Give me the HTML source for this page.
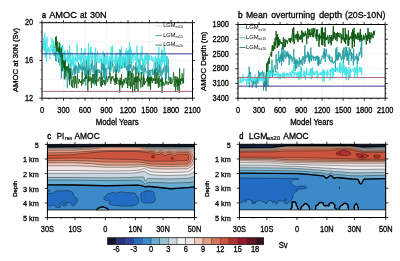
<!DOCTYPE html><html><head><meta charset="utf-8"><style>html,body{margin:0;padding:0;background:#fff;width:400px;height:261px;overflow:hidden}svg{display:block;will-change:transform}text{stroke:#000;stroke-width:0.3px;paint-order:stroke}</style></head><body>
<svg stroke-linecap="butt" xmlns="http://www.w3.org/2000/svg" width="400" height="261" viewBox="0 0 400 261" font-family='"Liberation Sans", sans-serif'>
<line x1="63.50" y1="22.7" x2="63.50" y2="98.2" stroke="#d8d8d8" stroke-width="0.5" stroke-dasharray="1.5,1.5"/>
<line x1="85.00" y1="22.7" x2="85.00" y2="98.2" stroke="#d8d8d8" stroke-width="0.5" stroke-dasharray="1.5,1.5"/>
<line x1="106.50" y1="22.7" x2="106.50" y2="98.2" stroke="#d8d8d8" stroke-width="0.5" stroke-dasharray="1.5,1.5"/>
<line x1="128.00" y1="22.7" x2="128.00" y2="98.2" stroke="#d8d8d8" stroke-width="0.5" stroke-dasharray="1.5,1.5"/>
<line x1="149.50" y1="22.7" x2="149.50" y2="98.2" stroke="#d8d8d8" stroke-width="0.5" stroke-dasharray="1.5,1.5"/>
<line x1="171.00" y1="22.7" x2="171.00" y2="98.2" stroke="#d8d8d8" stroke-width="0.5" stroke-dasharray="1.5,1.5"/>
<line x1="42.0" y1="79.33" x2="192.5" y2="79.33" stroke="#d8d8d8" stroke-width="0.5" stroke-dasharray="1.5,1.5"/>
<line x1="42.0" y1="60.45" x2="192.5" y2="60.45" stroke="#d8d8d8" stroke-width="0.5" stroke-dasharray="1.5,1.5"/>
<line x1="42.0" y1="41.58" x2="192.5" y2="41.58" stroke="#d8d8d8" stroke-width="0.5" stroke-dasharray="1.5,1.5"/>
<polyline points="52.75,50.86 53.11,52.04 53.47,45.36 53.83,51.46 54.18,55.76 54.54,52.42 54.90,52.44 55.26,47.03 55.62,61.00 55.98,41.14 56.33,61.49 56.69,47.42 57.05,57.17 57.41,56.57 57.77,54.49 58.12,56.58 58.48,62.94 58.84,55.22 59.20,47.06 59.56,59.29 59.92,65.79 60.27,54.08 60.63,59.78 60.99,62.26 61.35,78.47 61.71,58.42 62.07,70.86 62.42,64.71 62.78,70.60 63.14,70.04 63.50,59.81 63.86,63.15 64.22,79.07 64.58,71.41 64.93,51.88 65.29,76.13 65.65,65.59 66.01,70.46 66.37,76.81 66.72,66.39 67.08,82.92 67.44,88.25 67.80,76.83 68.16,67.34 68.52,79.74 68.88,80.35 69.23,75.13 69.59,68.49 69.95,69.61 70.31,75.10 70.67,60.06 71.03,79.34 71.38,68.25 71.74,69.75 72.10,69.41 72.46,75.28 72.82,73.28 73.17,72.51 73.53,68.61 73.89,64.93 74.25,76.86 74.61,67.41 74.97,74.44 75.32,63.77 75.68,72.50 76.04,73.87 76.40,65.41 76.76,69.87 77.12,66.62 77.47,73.57 77.83,70.04 78.19,70.18 78.55,62.22 78.91,73.13 79.27,64.28 79.62,68.12 79.98,66.09 80.34,69.31 80.70,64.10 81.06,69.47 81.42,70.51 81.78,66.97 82.13,65.95 82.49,75.38 82.85,62.30 83.21,69.75 83.57,59.42 83.93,70.71 84.28,60.21 84.64,75.71 85.00,71.73 85.36,67.03 85.72,85.55 86.08,60.08 86.43,78.67 86.79,59.74 87.15,68.14 87.51,69.28 87.87,74.93 88.22,62.05 88.58,51.74 88.94,76.61 89.30,68.29 89.66,70.38 90.02,64.76 90.38,75.24 90.73,72.44 91.09,72.65 91.45,62.86 91.81,69.16 92.17,59.29 92.53,64.71 92.88,71.32 93.24,72.86 93.60,67.75 93.96,65.44 94.32,66.91 94.67,85.27 95.03,53.57 95.39,78.88 95.75,71.36 96.11,73.22 96.47,60.30 96.82,76.90 97.18,69.80 97.54,77.61 97.90,69.03 98.26,70.16 98.62,71.70 98.97,72.93 99.33,69.51 99.69,72.92 100.05,72.09 100.41,72.80 100.77,71.01 101.12,71.61 101.48,58.48 101.84,79.93 102.20,62.40 102.56,70.28 102.92,66.86 103.28,63.08 103.63,77.58 103.99,53.86 104.35,78.46 104.71,53.68 105.07,85.74 105.42,67.75 105.78,71.30 106.14,68.77 106.50,78.83 106.86,70.36 107.22,67.67 107.58,68.49 107.93,68.96 108.29,68.77 108.65,66.22 109.01,62.22 109.37,74.19 109.73,66.23 110.08,69.56 110.44,60.42 110.80,71.74 111.16,61.64 111.52,62.02 111.88,67.45 112.23,60.09 112.59,65.74 112.95,63.99 113.31,73.16 113.67,71.68 114.03,68.43 114.38,66.27 114.74,67.39 115.10,71.62 115.46,63.60 115.82,66.32 116.17,72.56 116.53,67.96 116.89,60.66 117.25,71.50 117.61,61.82 117.97,62.96 118.33,70.49 118.68,73.26 119.04,56.67 119.40,63.31 119.76,71.46 120.12,49.62 120.48,66.28 120.83,62.22 121.19,68.76 121.55,66.06 121.91,67.19 122.27,68.41 122.62,63.78 122.98,61.80 123.34,67.01 123.70,66.88 124.06,61.78 124.42,67.12 124.78,67.72 125.13,56.83 125.49,60.35 125.85,67.82 126.21,66.18 126.57,70.27 126.92,63.22 127.28,66.81 127.64,78.58 128.00,51.06 128.36,79.85 128.72,64.53 129.07,67.37 129.43,75.88 129.79,54.47 130.15,68.74 130.51,64.93 130.87,66.07 131.22,58.69 131.58,63.22 131.94,77.62 132.30,68.64 132.66,73.60 133.02,68.28 133.38,65.53 133.73,70.32 134.09,66.37 134.45,67.54 134.81,68.55 135.17,68.73 135.53,63.61 135.88,62.17 136.24,67.39 136.60,68.66 136.96,74.37 137.32,72.96 137.68,65.89 138.03,68.32 138.39,75.74 138.75,58.56 139.11,71.07 139.47,74.80 139.82,60.29 140.18,65.38 140.54,69.13 140.90,65.27 141.26,70.49 141.62,69.63 141.97,64.82 142.33,73.90 142.69,71.21 143.05,62.20 143.41,70.18 143.77,78.49 144.12,74.68 144.48,72.56 144.84,64.18 145.20,71.12 145.56,68.40 145.92,72.56 146.27,72.25 146.63,71.97 146.99,71.57 147.35,76.93 147.71,80.32 148.07,55.46 148.43,84.64 148.78,69.65 149.14,69.95 149.50,75.57 149.86,70.35 150.22,69.75 150.57,83.00 150.93,73.27 151.29,70.13 151.65,70.59 152.01,71.26 152.37,68.46 152.73,74.86 153.08,70.72 153.44,74.63 153.80,71.03 154.16,70.61 154.52,67.03 154.88,73.22 155.23,61.79 155.59,66.95 155.95,78.37 156.31,68.06 156.67,70.85 157.02,66.60 157.38,75.74 157.74,61.43 158.10,71.79 158.46,70.32 158.82,75.98 159.18,60.72 159.53,72.78 159.89,63.50 160.25,76.06 160.61,66.27 160.97,67.15 161.32,72.58 161.68,85.76 162.04,71.15 162.40,73.61 162.76,69.23 163.12,72.68 163.48,67.40 163.83,71.57 164.19,66.25 164.55,60.78 164.91,66.74 165.27,78.93 165.62,75.95 165.98,64.95 166.34,78.87 166.70,56.24 167.06,70.19 167.42,71.76 167.78,72.72 168.13,58.43 168.49,80.56 168.85,67.36" fill="none" stroke="#1a9aa0" stroke-width="0.75" stroke-linejoin="round" />
<polyline points="42.00,47.47 42.36,49.24 42.72,42.73 43.08,48.38 43.43,50.22 43.79,37.71 44.15,44.85 44.51,50.71 44.87,32.92 45.23,57.47 45.58,40.61 45.94,49.03 46.30,48.69 46.66,61.92 47.02,36.87 47.38,52.37 47.73,49.05 48.09,50.81 48.45,47.09 48.81,51.90 49.17,48.64 49.52,51.36 49.88,59.18 50.24,49.73 50.60,44.90 50.96,47.33 51.32,49.30 51.67,50.80 52.03,37.72 52.39,49.73 52.75,53.74 53.11,48.67 53.47,40.61 53.83,50.36 54.18,51.99 54.54,50.47 54.90,50.67 55.26,43.93 55.62,50.96 55.98,51.98 56.33,51.16 56.69,58.47 57.05,49.21 57.41,55.98 57.77,57.71 58.12,57.56 58.48,54.44 58.84,50.38 59.20,58.54 59.56,51.32 59.92,53.95 60.27,43.43 60.63,58.90 60.99,50.36 61.35,67.78 61.71,49.97 62.07,44.95 62.42,69.59 62.78,45.13 63.14,65.47 63.50,52.33 63.86,70.87 64.22,61.16 64.58,61.73 64.93,50.21 65.29,57.65 65.65,57.09 66.01,57.71 66.37,61.25 66.72,57.95 67.08,59.73 67.44,50.12 67.80,63.17 68.16,55.80 68.52,62.52 68.88,51.67 69.23,58.29 69.59,45.22 69.95,68.70 70.31,52.20 70.67,63.42 71.03,59.28 71.38,60.47 71.74,66.87 72.10,52.56 72.46,61.97 72.82,65.27 73.17,55.38 73.53,66.69 73.89,57.79 74.25,57.97 74.61,59.44 74.97,66.11 75.32,54.65 75.68,60.61 76.04,58.10 76.40,61.95 76.76,59.92 77.12,42.81 77.47,62.39 77.83,54.73 78.19,54.90 78.55,58.86 78.91,60.84 79.27,54.77 79.62,58.57 79.98,57.25 80.34,63.46 80.70,55.43 81.06,66.13 81.42,47.83 81.78,61.48 82.13,53.58 82.49,57.79 82.85,57.59 83.21,58.71 83.57,67.20 83.93,52.64 84.28,65.20 84.64,57.66 85.00,48.21 85.36,61.94 85.72,57.31 86.08,55.98 86.43,60.55 86.79,57.81 87.15,59.44 87.51,55.22 87.87,65.46 88.22,55.94 88.58,43.27 88.94,62.92 89.30,55.89 89.66,60.13 90.02,68.01 90.38,47.39 90.73,54.04 91.09,46.80 91.45,61.05 91.81,55.06 92.17,59.87 92.53,52.13 92.88,58.06 93.24,58.53 93.60,58.34 93.96,57.69 94.32,55.13 94.67,54.73 95.03,63.59 95.39,47.57 95.75,57.88 96.11,53.55 96.47,62.13 96.82,60.53 97.18,54.38 97.54,51.38 97.90,61.81 98.26,63.04 98.62,58.58 98.97,54.77 99.33,56.75 99.69,63.02 100.05,62.69 100.41,58.85 100.77,62.10 101.12,55.17 101.48,62.55 101.84,62.83 102.20,60.55 102.56,63.91 102.92,57.93 103.28,51.40 103.63,63.37 103.99,62.77 104.35,56.57 104.71,63.36 105.07,66.03 105.42,62.86 105.78,60.52 106.14,55.94 106.50,64.26 106.86,55.14 107.22,67.75 107.58,52.32 107.93,59.61 108.29,65.28 108.65,65.82 109.01,58.97 109.37,62.52 109.73,56.19 110.08,59.89 110.44,57.83 110.80,61.27 111.16,46.62 111.52,69.22 111.88,54.24 112.23,60.90 112.59,45.40 112.95,56.15 113.31,61.40 113.67,60.09 114.03,61.66 114.38,64.05 114.74,57.90 115.10,56.51 115.46,62.83 115.82,54.03 116.17,66.48 116.53,61.93 116.89,52.49 117.25,57.99 117.61,62.67 117.97,60.71 118.33,63.00 118.68,71.31 119.04,58.86 119.40,49.16 119.76,65.16 120.12,55.93 120.48,66.57 120.83,56.15 121.19,61.12 121.55,46.58 121.91,66.37 122.27,57.68 122.62,62.40 122.98,55.85 123.34,67.45 123.70,53.53 124.06,56.31 124.42,61.61 124.78,58.07 125.13,59.10 125.49,51.93 125.85,63.47 126.21,48.37 126.57,65.92 126.92,62.77 127.28,50.44 127.64,65.43 128.00,51.88 128.36,56.70 128.72,49.45 129.07,55.53 129.43,42.54 129.79,57.38 130.15,55.11 130.51,46.68 130.87,63.85 131.22,49.37 131.58,61.66 131.94,55.53 132.30,54.94 132.66,54.32 133.02,62.86 133.38,52.69 133.73,55.46 134.09,57.21 134.45,55.56 134.81,52.75 135.17,60.65 135.53,56.54 135.88,58.83 136.24,58.86 136.60,66.24 136.96,45.67 137.32,62.18 137.68,58.43 138.03,53.35 138.39,72.14 138.75,60.13 139.11,70.94 139.47,65.61 139.82,73.75 140.18,52.85 140.54,60.06 140.90,60.91 141.26,52.25 141.62,59.68 141.97,45.98 142.33,61.41 142.69,58.45 143.05,67.42 143.41,61.26 143.77,59.48 144.12,63.03 144.48,55.58 144.84,66.29 145.20,54.75 145.56,60.04 145.92,57.78 146.27,64.16 146.63,52.94 146.99,56.12 147.35,59.33 147.71,57.59 148.07,55.41 148.43,62.88 148.78,54.55 149.14,59.95 149.50,54.98 149.86,57.64 150.22,59.82 150.57,59.70 150.93,58.77 151.29,60.39 151.65,55.51 152.01,56.96 152.37,59.91 152.73,61.81 153.08,58.69 153.44,57.29 153.80,60.23 154.16,72.37 154.52,61.91 154.88,60.26 155.23,55.72 155.59,62.13 155.95,58.29 156.31,60.15 156.67,66.62 157.02,57.82 157.38,61.20 157.74,59.73 158.10,53.55 158.46,63.79 158.82,46.93 159.18,64.27 159.53,58.07 159.89,57.98 160.25,60.14 160.61,66.94 160.97,56.23 161.32,66.83 161.68,49.55 162.04,64.46 162.40,50.12 162.76,62.39 163.12,55.23 163.48,60.73 163.83,62.03 164.19,45.25 164.55,65.17 164.91,57.81 165.27,52.29 165.62,61.59 165.98,59.58 166.34,62.94 166.70,59.91 167.06,55.96 167.42,65.06 167.78,58.06 168.13,59.02 168.49,60.36 168.85,60.29" fill="none" stroke="#3ce2e4" stroke-width="0.8" stroke-linejoin="round" />
<polyline points="54.90,47.76 55.26,45.38 55.62,37.04 55.98,44.90 56.33,36.28 56.69,51.44 57.05,41.78 57.41,41.37 57.77,51.49 58.12,47.73 58.48,50.02 58.84,52.67 59.20,42.41 59.56,54.42 59.92,47.60 60.27,55.65 60.63,57.08 60.99,57.55 61.35,47.44 61.71,64.23 62.07,71.39 62.42,53.89 62.78,63.81 63.14,60.40 63.50,67.55 63.86,61.33 64.22,69.09 64.58,61.96 64.93,79.45 65.29,60.01 65.65,69.09 66.01,66.74 66.37,67.50 66.72,70.75 67.08,67.30 67.44,68.00 67.80,66.24 68.16,72.73 68.52,63.63 68.88,71.92 69.23,73.05 69.59,84.78 69.95,68.25 70.31,78.67 70.67,71.68 71.03,77.76 71.38,86.45 71.74,83.83 72.10,79.97 72.46,84.46 72.82,87.99 73.17,76.30 73.53,80.85 73.89,81.24 74.25,83.29 74.61,87.68 74.97,76.03 75.32,83.50 75.68,76.14 76.04,81.08 76.40,82.96 76.76,88.23 77.12,81.24 77.47,74.24 77.83,80.51 78.19,82.37 78.55,83.69 78.91,80.22 79.27,78.97 79.62,82.02 79.98,81.12 80.34,81.97 80.70,82.88 81.06,81.26 81.42,80.49 81.78,85.67 82.13,71.65 82.49,77.66 82.85,83.77 83.21,80.74 83.57,79.68 83.93,78.91 84.28,81.87 84.64,78.78 85.00,77.06 85.36,78.50 85.72,75.54 86.08,78.61 86.43,78.64 86.79,75.31 87.15,77.96 87.51,79.14 87.87,91.06 88.22,70.37 88.58,81.80 88.94,76.39 89.30,80.82 89.66,78.45 90.02,81.32 90.38,78.67 90.73,76.57 91.09,79.42 91.45,87.74 91.81,77.87 92.17,83.14 92.53,74.99 92.88,73.87 93.24,83.57 93.60,79.85 93.96,73.72 94.32,79.25 94.67,79.70 95.03,81.63 95.39,80.38 95.75,83.68 96.11,70.00 96.47,85.83 96.82,78.16 97.18,80.85 97.54,81.26 97.90,80.86 98.26,81.37 98.62,78.93 98.97,78.98 99.33,77.19 99.69,77.04 100.05,81.00 100.41,83.35 100.77,86.23 101.12,72.64 101.48,86.68 101.84,83.39 102.20,77.19 102.56,84.95 102.92,82.46 103.28,82.34 103.63,79.79 103.99,82.22 104.35,84.32 104.71,81.20 105.07,80.21 105.42,84.22 105.78,84.47 106.14,78.97 106.50,76.33 106.86,76.59 107.22,81.32 107.58,82.21 107.93,79.00 108.29,79.58 108.65,76.26 109.01,78.21 109.37,76.88 109.73,77.61 110.08,72.54 110.44,82.35 110.80,83.80 111.16,77.66 111.52,80.70 111.88,76.23 112.23,78.23 112.59,76.28 112.95,76.01 113.31,79.17 113.67,80.48 114.03,78.99 114.38,81.94 114.74,78.48 115.10,84.95 115.46,74.06 115.82,82.78 116.17,69.84 116.53,82.81 116.89,83.98 117.25,78.52 117.61,77.62 117.97,80.34 118.33,80.75 118.68,79.90 119.04,85.02 119.40,80.28 119.76,92.60 120.12,77.89 120.48,84.87 120.83,80.21 121.19,84.47 121.55,74.13 121.91,84.26 122.27,87.71 122.62,81.43 122.98,82.79 123.34,85.31 123.70,79.20 124.06,81.52 124.42,80.18 124.78,83.46 125.13,77.68 125.49,79.24 125.85,79.20 126.21,81.69 126.57,84.02 126.92,77.73 127.28,78.84 127.64,88.10 128.00,76.84 128.36,71.27 128.72,80.55 129.07,85.99 129.43,78.66 129.79,79.06 130.15,70.85 130.51,88.73 130.87,82.25 131.22,86.62 131.58,73.00 131.94,81.74 132.30,84.24 132.66,92.53 133.02,73.78 133.38,84.90 133.73,81.90 134.09,78.70 134.45,77.52 134.81,92.13 135.17,76.87 135.53,82.55 135.88,67.78 136.24,88.96 136.60,76.61 136.96,82.26 137.32,82.02 137.68,76.03 138.03,91.03 138.39,75.95 138.75,73.51 139.11,81.02 139.47,78.86 139.82,78.39 140.18,81.45 140.54,79.82 140.90,87.55 141.26,72.04 141.62,79.69 141.97,77.56 142.33,83.02 142.69,87.12 143.05,84.84 143.41,74.60 143.77,84.54 144.12,78.09 144.48,84.70 144.84,81.65 145.20,83.38 145.56,81.75 145.92,81.66 146.27,81.49 146.63,80.42 146.99,78.35 147.35,82.02 147.71,76.15 148.07,86.55 148.43,79.22 148.78,77.44 149.14,83.62 149.50,76.94 149.86,86.28 150.22,78.18 150.57,89.80 150.93,76.87 151.29,81.08 151.65,76.72 152.01,79.82 152.37,82.86 152.73,78.45 153.08,78.57 153.44,80.62 153.80,78.41 154.16,80.87 154.52,79.52 154.88,69.36 155.23,84.08 155.59,78.69 155.95,83.95 156.31,83.10 156.67,76.39 157.02,72.15 157.38,83.50 157.74,79.15 158.10,78.26 158.46,88.02 158.82,77.64 159.18,75.98 159.53,83.18 159.89,86.75 160.25,79.75 160.61,81.64 160.97,78.72 161.32,81.88 161.68,79.74 162.04,92.71 162.40,78.03 162.76,85.69 163.12,82.06 163.48,81.89 163.83,83.98 164.19,85.86 164.55,84.74 164.91,84.85 165.27,81.61 165.62,78.61 165.98,84.36 166.34,82.73 166.70,81.15 167.06,82.79 167.42,82.10 167.78,82.12 168.13,85.17 168.49,83.48 168.85,81.77 169.21,83.29 169.57,81.94 169.93,76.89 170.28,81.25 170.64,84.03 171.00,77.51 171.36,83.94 171.72,83.26 172.08,83.44 172.43,79.91 172.79,80.06 173.15,78.23 173.51,72.38 173.87,77.36 174.22,86.71 174.58,83.00 174.94,76.37 175.30,78.54 175.66,92.09 176.02,76.34 176.38,82.26 176.73,79.81 177.09,86.97 177.45,77.10 177.81,90.29 178.17,78.44 178.53,86.00 178.88,80.09 179.24,92.78 179.60,68.43 179.96,83.00 180.32,79.08 180.67,84.87 181.03,78.16 181.39,79.48 181.75,80.92 182.11,73.31 182.47,77.67 182.82,83.71 183.18,78.18 183.54,82.71 183.90,68.35" fill="none" stroke="#0c5c12" stroke-width="0.8" stroke-linejoin="round" />
<line x1="42.0" y1="53.84" x2="192.5" y2="53.84" stroke="#283c8c" stroke-width="1"/>
<line x1="42.0" y1="91.41" x2="192.5" y2="91.41" stroke="#a86a7a" stroke-width="1"/>
<line x1="155.2" y1="26.10" x2="162" y2="26.10" stroke="#9fe5e8" stroke-width="0.8"/>
<text x="163.2" y="27.10" font-size="5.7" style="stroke-width:0.0px">LGM<tspan font-size="3.4" dy="1.3" style="stroke-width:0px">es10</tspan></text>
<line x1="155.2" y1="35.60" x2="162" y2="35.60" stroke="#2a9ea6" stroke-width="0.8"/>
<text x="163.2" y="36.60" font-size="5.7" style="stroke-width:0.0px">LGM<tspan font-size="3.4" dy="1.3" style="stroke-width:0px">es15</tspan></text>
<line x1="155.2" y1="45.10" x2="162" y2="45.10" stroke="#1f6f22" stroke-width="0.8"/>
<text x="163.2" y="46.10" font-size="5.7" style="stroke-width:0.0px">LGM<tspan font-size="3.4" dy="1.3" style="stroke-width:0px">es20</tspan></text>
<rect x="42.0" y="22.7" width="150.50" height="75.50" fill="none" stroke="#000" stroke-width="1"/>
<line x1="42.00" y1="98.2" x2="42.00" y2="100.80" stroke="#000" stroke-width="0.8"/>
<line x1="42.00" y1="22.7" x2="42.00" y2="20.10" stroke="#000" stroke-width="0.8"/>
<line x1="63.50" y1="98.2" x2="63.50" y2="100.80" stroke="#000" stroke-width="0.8"/>
<line x1="63.50" y1="22.7" x2="63.50" y2="20.10" stroke="#000" stroke-width="0.8"/>
<line x1="85.00" y1="98.2" x2="85.00" y2="100.80" stroke="#000" stroke-width="0.8"/>
<line x1="85.00" y1="22.7" x2="85.00" y2="20.10" stroke="#000" stroke-width="0.8"/>
<line x1="106.50" y1="98.2" x2="106.50" y2="100.80" stroke="#000" stroke-width="0.8"/>
<line x1="106.50" y1="22.7" x2="106.50" y2="20.10" stroke="#000" stroke-width="0.8"/>
<line x1="128.00" y1="98.2" x2="128.00" y2="100.80" stroke="#000" stroke-width="0.8"/>
<line x1="128.00" y1="22.7" x2="128.00" y2="20.10" stroke="#000" stroke-width="0.8"/>
<line x1="149.50" y1="98.2" x2="149.50" y2="100.80" stroke="#000" stroke-width="0.8"/>
<line x1="149.50" y1="22.7" x2="149.50" y2="20.10" stroke="#000" stroke-width="0.8"/>
<line x1="171.00" y1="98.2" x2="171.00" y2="100.80" stroke="#000" stroke-width="0.8"/>
<line x1="171.00" y1="22.7" x2="171.00" y2="20.10" stroke="#000" stroke-width="0.8"/>
<line x1="192.50" y1="98.2" x2="192.50" y2="100.80" stroke="#000" stroke-width="0.8"/>
<line x1="192.50" y1="22.7" x2="192.50" y2="20.10" stroke="#000" stroke-width="0.8"/>
<line x1="49.17" y1="98.2" x2="49.17" y2="99.60" stroke="#000" stroke-width="0.6"/>
<line x1="49.17" y1="22.7" x2="49.17" y2="21.30" stroke="#000" stroke-width="0.6"/>
<line x1="56.33" y1="98.2" x2="56.33" y2="99.60" stroke="#000" stroke-width="0.6"/>
<line x1="56.33" y1="22.7" x2="56.33" y2="21.30" stroke="#000" stroke-width="0.6"/>
<line x1="70.67" y1="98.2" x2="70.67" y2="99.60" stroke="#000" stroke-width="0.6"/>
<line x1="70.67" y1="22.7" x2="70.67" y2="21.30" stroke="#000" stroke-width="0.6"/>
<line x1="77.83" y1="98.2" x2="77.83" y2="99.60" stroke="#000" stroke-width="0.6"/>
<line x1="77.83" y1="22.7" x2="77.83" y2="21.30" stroke="#000" stroke-width="0.6"/>
<line x1="92.17" y1="98.2" x2="92.17" y2="99.60" stroke="#000" stroke-width="0.6"/>
<line x1="92.17" y1="22.7" x2="92.17" y2="21.30" stroke="#000" stroke-width="0.6"/>
<line x1="99.33" y1="98.2" x2="99.33" y2="99.60" stroke="#000" stroke-width="0.6"/>
<line x1="99.33" y1="22.7" x2="99.33" y2="21.30" stroke="#000" stroke-width="0.6"/>
<line x1="113.67" y1="98.2" x2="113.67" y2="99.60" stroke="#000" stroke-width="0.6"/>
<line x1="113.67" y1="22.7" x2="113.67" y2="21.30" stroke="#000" stroke-width="0.6"/>
<line x1="120.83" y1="98.2" x2="120.83" y2="99.60" stroke="#000" stroke-width="0.6"/>
<line x1="120.83" y1="22.7" x2="120.83" y2="21.30" stroke="#000" stroke-width="0.6"/>
<line x1="135.17" y1="98.2" x2="135.17" y2="99.60" stroke="#000" stroke-width="0.6"/>
<line x1="135.17" y1="22.7" x2="135.17" y2="21.30" stroke="#000" stroke-width="0.6"/>
<line x1="142.33" y1="98.2" x2="142.33" y2="99.60" stroke="#000" stroke-width="0.6"/>
<line x1="142.33" y1="22.7" x2="142.33" y2="21.30" stroke="#000" stroke-width="0.6"/>
<line x1="156.67" y1="98.2" x2="156.67" y2="99.60" stroke="#000" stroke-width="0.6"/>
<line x1="156.67" y1="22.7" x2="156.67" y2="21.30" stroke="#000" stroke-width="0.6"/>
<line x1="163.83" y1="98.2" x2="163.83" y2="99.60" stroke="#000" stroke-width="0.6"/>
<line x1="163.83" y1="22.7" x2="163.83" y2="21.30" stroke="#000" stroke-width="0.6"/>
<line x1="178.17" y1="98.2" x2="178.17" y2="99.60" stroke="#000" stroke-width="0.6"/>
<line x1="178.17" y1="22.7" x2="178.17" y2="21.30" stroke="#000" stroke-width="0.6"/>
<line x1="185.33" y1="98.2" x2="185.33" y2="99.60" stroke="#000" stroke-width="0.6"/>
<line x1="185.33" y1="22.7" x2="185.33" y2="21.30" stroke="#000" stroke-width="0.6"/>
<line x1="42.0" y1="98.20" x2="39.40" y2="98.20" stroke="#000" stroke-width="0.8"/>
<line x1="192.5" y1="98.20" x2="195.10" y2="98.20" stroke="#000" stroke-width="0.8"/>
<line x1="42.0" y1="60.45" x2="39.40" y2="60.45" stroke="#000" stroke-width="0.8"/>
<line x1="192.5" y1="60.45" x2="195.10" y2="60.45" stroke="#000" stroke-width="0.8"/>
<line x1="42.0" y1="22.70" x2="39.40" y2="22.70" stroke="#000" stroke-width="0.8"/>
<line x1="192.5" y1="22.70" x2="195.10" y2="22.70" stroke="#000" stroke-width="0.8"/>
<line x1="42.0" y1="88.76" x2="40.60" y2="88.76" stroke="#000" stroke-width="0.6"/>
<line x1="192.5" y1="88.76" x2="193.90" y2="88.76" stroke="#000" stroke-width="0.6"/>
<line x1="42.0" y1="79.33" x2="40.60" y2="79.33" stroke="#000" stroke-width="0.6"/>
<line x1="192.5" y1="79.33" x2="193.90" y2="79.33" stroke="#000" stroke-width="0.6"/>
<line x1="42.0" y1="69.89" x2="40.60" y2="69.89" stroke="#000" stroke-width="0.6"/>
<line x1="192.5" y1="69.89" x2="193.90" y2="69.89" stroke="#000" stroke-width="0.6"/>
<line x1="42.0" y1="51.01" x2="40.60" y2="51.01" stroke="#000" stroke-width="0.6"/>
<line x1="192.5" y1="51.01" x2="193.90" y2="51.01" stroke="#000" stroke-width="0.6"/>
<line x1="42.0" y1="41.58" x2="40.60" y2="41.58" stroke="#000" stroke-width="0.6"/>
<line x1="192.5" y1="41.58" x2="193.90" y2="41.58" stroke="#000" stroke-width="0.6"/>
<line x1="42.0" y1="32.14" x2="40.60" y2="32.14" stroke="#000" stroke-width="0.6"/>
<line x1="192.5" y1="32.14" x2="193.90" y2="32.14" stroke="#000" stroke-width="0.6"/>
<text x="42.00" y="112.60" font-size="8.22" text-anchor="middle" textLength="4.12" lengthAdjust="spacingAndGlyphs" >0</text>
<text x="63.50" y="112.60" font-size="8.22" text-anchor="middle" textLength="12.35" lengthAdjust="spacingAndGlyphs" >300</text>
<text x="85.00" y="112.60" font-size="8.22" text-anchor="middle" textLength="12.35" lengthAdjust="spacingAndGlyphs" >600</text>
<text x="106.50" y="112.60" font-size="8.22" text-anchor="middle" textLength="12.35" lengthAdjust="spacingAndGlyphs" >900</text>
<text x="128.00" y="112.60" font-size="8.22" text-anchor="middle" textLength="16.46" lengthAdjust="spacingAndGlyphs" >1200</text>
<text x="149.50" y="112.60" font-size="8.22" text-anchor="middle" textLength="16.46" lengthAdjust="spacingAndGlyphs" >1500</text>
<text x="171.00" y="112.60" font-size="8.22" text-anchor="middle" textLength="16.46" lengthAdjust="spacingAndGlyphs" >1800</text>
<text x="192.50" y="112.60" font-size="8.22" text-anchor="middle" textLength="16.46" lengthAdjust="spacingAndGlyphs" >2100</text>
<text x="33.20" y="100.90" font-size="8.22" text-anchor="end" textLength="8.23" lengthAdjust="spacingAndGlyphs" >12</text>
<text x="33.20" y="63.15" font-size="8.22" text-anchor="end" textLength="8.23" lengthAdjust="spacingAndGlyphs" >16</text>
<text x="33.20" y="25.40" font-size="8.22" text-anchor="end" textLength="8.23" lengthAdjust="spacingAndGlyphs" >20</text>
<text x="117.20" y="124.60" font-size="8.67" text-anchor="middle" textLength="42.93" lengthAdjust="spacingAndGlyphs" >Model Years</text>
<text transform="translate(17.8,60.0) rotate(-90)" font-size="7.7" text-anchor="middle">AMOC at 30N (Sv)</text>
<text x="42.00" y="18.40" font-size="9.6" textLength="3.99" lengthAdjust="spacingAndGlyphs" style="stroke-width:0.45px">a</text>
<text x="49.20" y="18.30" font-size="9.6" textLength="27.80" lengthAdjust="spacingAndGlyphs" >AMOC</text>
<text x="80.00" y="18.30" font-size="9.6" textLength="6.90" lengthAdjust="spacingAndGlyphs" >at</text>
<text x="89.90" y="18.30" font-size="9.6" textLength="16.80" lengthAdjust="spacingAndGlyphs" >30N</text>
<line x1="259.03" y1="24.5" x2="259.03" y2="98.2" stroke="#d8d8d8" stroke-width="0.5" stroke-dasharray="1.5,1.5"/>
<line x1="280.06" y1="24.5" x2="280.06" y2="98.2" stroke="#d8d8d8" stroke-width="0.5" stroke-dasharray="1.5,1.5"/>
<line x1="301.09" y1="24.5" x2="301.09" y2="98.2" stroke="#d8d8d8" stroke-width="0.5" stroke-dasharray="1.5,1.5"/>
<line x1="322.11" y1="24.5" x2="322.11" y2="98.2" stroke="#d8d8d8" stroke-width="0.5" stroke-dasharray="1.5,1.5"/>
<line x1="343.14" y1="24.5" x2="343.14" y2="98.2" stroke="#d8d8d8" stroke-width="0.5" stroke-dasharray="1.5,1.5"/>
<line x1="364.17" y1="24.5" x2="364.17" y2="98.2" stroke="#d8d8d8" stroke-width="0.5" stroke-dasharray="1.5,1.5"/>
<line x1="238.0" y1="39.24" x2="385.2" y2="39.24" stroke="#d8d8d8" stroke-width="0.5" stroke-dasharray="1.5,1.5"/>
<line x1="238.0" y1="53.98" x2="385.2" y2="53.98" stroke="#d8d8d8" stroke-width="0.5" stroke-dasharray="1.5,1.5"/>
<line x1="238.0" y1="68.72" x2="385.2" y2="68.72" stroke="#d8d8d8" stroke-width="0.5" stroke-dasharray="1.5,1.5"/>
<line x1="238.0" y1="83.46" x2="385.2" y2="83.46" stroke="#d8d8d8" stroke-width="0.5" stroke-dasharray="1.5,1.5"/>
<polyline points="248.51,75.43 248.86,76.88 249.22,66.57 249.57,87.43 249.92,71.83 250.27,79.09 250.62,72.54 250.97,79.44 251.32,81.45 251.67,80.22 252.02,82.66 252.37,87.77 252.72,79.13 253.07,80.13 253.42,80.68 253.77,85.09 254.12,80.58 254.47,83.00 254.82,80.25 255.17,84.32 255.52,79.73 255.87,80.68 256.22,88.17 256.58,77.07 256.93,79.79 257.28,81.24 257.63,77.34 257.98,83.67 258.33,79.56 258.68,70.40 259.03,79.31 259.38,77.48 259.73,72.63 260.08,75.89 260.43,73.75 260.78,74.86 261.13,72.02 261.48,74.64 261.83,75.93 262.18,74.30 262.53,70.72 262.88,74.41 263.23,80.06 263.58,90.28 263.94,72.23 264.29,87.10 264.64,77.68 264.99,85.40 265.34,84.08 265.69,82.02 266.04,81.95 266.39,85.60 266.74,82.62 267.09,81.77 267.44,78.23 267.79,81.18 268.14,86.86 268.49,65.33 268.84,77.80 269.19,70.82 269.54,76.78 269.89,70.95 270.24,73.26 270.59,70.42 270.94,70.50 271.30,70.47 271.65,73.45 272.00,59.69 272.35,77.03 272.70,70.73 273.05,71.23 273.40,73.76 273.75,67.48 274.10,67.01 274.45,65.97 274.80,65.31 275.15,67.90 275.50,72.29 275.85,60.67 276.20,54.23 276.55,62.45 276.90,62.87 277.25,69.52 277.60,59.81 277.95,58.89 278.30,60.49 278.66,51.08 279.01,60.30 279.36,63.22 279.71,56.99 280.06,61.59 280.41,54.99 280.76,59.35 281.11,53.46 281.46,65.56 281.81,47.61 282.16,61.21 282.51,52.56 282.86,60.87 283.21,45.61 283.56,61.72 283.91,59.09 284.26,55.03 284.61,56.90 284.96,50.35 285.31,54.88 285.66,58.94 286.02,55.84 286.37,51.84 286.72,56.90 287.07,54.17 287.42,56.11 287.77,51.32 288.12,57.12 288.47,58.08 288.82,53.30 289.17,65.08 289.52,54.83 289.87,58.57 290.22,54.52 290.57,54.86 290.92,59.18 291.27,59.81 291.62,56.22 291.97,62.20 292.32,61.34 292.67,58.13 293.02,57.79 293.38,58.72 293.73,49.10 294.08,64.14 294.43,61.08 294.78,57.58 295.13,71.11 295.48,60.05 295.83,67.61 296.18,59.42 296.53,66.23 296.88,68.56 297.23,59.50 297.58,64.10 297.93,63.41 298.28,61.39 298.63,63.51 298.98,66.94 299.33,57.32 299.68,64.80 300.03,60.67 300.38,60.00 300.74,63.19 301.09,64.34 301.44,58.83 301.79,61.97 302.14,61.51 302.49,65.62 302.84,56.27 303.19,59.88 303.54,57.35 303.89,56.49 304.24,63.82 304.59,49.89 304.94,44.90 305.29,61.98 305.64,54.67 305.99,55.24 306.34,55.28 306.69,57.95 307.04,56.96 307.39,57.46 307.74,51.51 308.10,57.12 308.45,52.67 308.80,61.46 309.15,55.80 309.50,63.15 309.85,54.36 310.20,60.13 310.55,56.79 310.90,47.51 311.25,61.41 311.60,58.77 311.95,55.16 312.30,58.22 312.65,58.69 313.00,57.72 313.35,55.90 313.70,60.81 314.05,57.42 314.40,57.95 314.75,56.91 315.10,56.35 315.46,60.75 315.81,57.35 316.16,58.86 316.51,56.28 316.86,59.52 317.21,60.64 317.56,55.61 317.91,65.31 318.26,56.59 318.61,65.68 318.96,57.03 319.31,63.15 319.66,64.16 320.01,59.68 320.36,61.91 320.71,63.83 321.06,61.40 321.41,58.66 321.76,60.03 322.11,55.81 322.46,57.05 322.82,55.62 323.17,55.74 323.52,51.83 323.87,58.90 324.22,48.09 324.57,57.41 324.92,49.67 325.27,62.02 325.62,53.75 325.97,55.80 326.32,48.82 326.67,52.59 327.02,55.17 327.37,56.34 327.72,55.90 328.07,57.29 328.42,58.46 328.77,57.96 329.12,54.40 329.47,60.66 329.82,55.85 330.18,60.41 330.53,61.97 330.88,61.07 331.23,60.05 331.58,62.26 331.93,56.73 332.28,57.78 332.63,62.60 332.98,61.65 333.33,63.55 333.68,62.59 334.03,62.92 334.38,61.36 334.73,62.21 335.08,60.77 335.43,71.70 335.78,48.72 336.13,60.42 336.48,60.21 336.83,47.02 337.18,60.28 337.54,54.92 337.89,60.61 338.24,52.69 338.59,59.28 338.94,52.06 339.29,56.74 339.64,55.51 339.99,52.83 340.34,53.41 340.69,57.90 341.04,58.74 341.39,60.68 341.74,56.62 342.09,59.03 342.44,55.32 342.79,49.78 343.14,58.84 343.49,62.96 343.84,47.61 344.19,59.23 344.54,55.32 344.90,56.59 345.25,46.92 345.60,55.90 345.95,53.76 346.30,56.78 346.65,46.91 347.00,60.88 347.35,50.82 347.70,60.16 348.05,53.35 348.40,56.75 348.75,64.95 349.10,47.23 349.45,54.73 349.80,55.57 350.15,49.28 350.50,49.54 350.85,56.36 351.20,60.88 351.55,52.22 351.90,58.74 352.26,54.02 352.61,54.05 352.96,53.51 353.31,65.40 353.66,48.51 354.01,61.23 354.36,58.90 354.71,58.60 355.06,57.74 355.41,55.91 355.76,59.49 356.11,59.07 356.46,58.61 356.81,53.57 357.16,64.55 357.51,56.78 357.86,61.08 358.21,56.52 358.56,60.73 358.91,54.16 359.26,51.71 359.62,55.63 359.97,54.43 360.32,53.55 360.67,47.67 361.02,49.42 361.37,40.00 361.72,57.52 362.07,37.08" fill="none" stroke="#1a9aa0" stroke-width="0.8" stroke-linejoin="round" />
<polyline points="238.00,83.91 238.35,83.40 238.70,82.48 239.05,83.31 239.40,82.06 239.75,81.94 240.10,77.58 240.45,83.02 240.80,78.30 241.15,79.84 241.50,79.61 241.86,83.26 242.21,80.96 242.56,80.02 242.91,74.21 243.26,81.75 243.61,78.93 243.96,78.57 244.31,79.81 244.66,79.43 245.01,79.16 245.36,81.08 245.71,78.66 246.06,79.03 246.41,79.01 246.76,85.04 247.11,78.58 247.46,75.64 247.81,79.86 248.16,84.17 248.51,79.01 248.86,78.09 249.22,82.56 249.57,78.99 249.92,74.87 250.27,75.01 250.62,81.05 250.97,80.55 251.32,79.55 251.67,80.58 252.02,78.37 252.37,81.22 252.72,77.58 253.07,80.48 253.42,80.83 253.77,79.63 254.12,80.76 254.47,77.65 254.82,82.10 255.17,74.43 255.52,80.50 255.87,78.55 256.22,80.76 256.58,80.06 256.93,77.53 257.28,76.95 257.63,78.39 257.98,76.78 258.33,80.06 258.68,79.35 259.03,81.96 259.38,80.39 259.73,78.07 260.08,79.89 260.43,80.99 260.78,76.78 261.13,78.93 261.48,80.61 261.83,73.25 262.18,80.70 262.53,78.72 262.88,78.16 263.23,82.25 263.58,77.16 263.94,80.48 264.29,77.13 264.64,80.64 264.99,76.88 265.34,79.15 265.69,75.21 266.04,78.80 266.39,75.58 266.74,74.33 267.09,84.66 267.44,73.08 267.79,72.36 268.14,67.94 268.49,79.53 268.84,72.55 269.19,77.35 269.54,71.48 269.89,78.73 270.24,73.28 270.59,72.19 270.94,75.62 271.30,69.56 271.65,74.38 272.00,75.04 272.35,74.65 272.70,74.47 273.05,71.96 273.40,76.03 273.75,72.43 274.10,75.37 274.45,75.58 274.80,73.72 275.15,76.25 275.50,73.92 275.85,74.12 276.20,75.23 276.55,74.86 276.90,70.80 277.25,76.71 277.60,74.81 277.95,72.36 278.30,73.59 278.66,75.28 279.01,79.11 279.36,73.72 279.71,76.18 280.06,74.20 280.41,78.76 280.76,74.07 281.11,77.25 281.46,75.26 281.81,75.86 282.16,73.72 282.51,72.81 282.86,78.09 283.21,73.84 283.56,77.09 283.91,71.60 284.26,72.70 284.61,78.45 284.96,73.07 285.31,74.72 285.66,74.75 286.02,75.10 286.37,76.29 286.72,73.24 287.07,76.35 287.42,72.86 287.77,74.70 288.12,74.89 288.47,73.29 288.82,77.59 289.17,75.68 289.52,74.56 289.87,71.90 290.22,73.27 290.57,75.86 290.92,72.99 291.27,77.02 291.62,74.11 291.97,69.91 292.32,73.67 292.67,72.49 293.02,71.42 293.38,72.72 293.73,65.14 294.08,77.69 294.43,72.04 294.78,75.06 295.13,73.03 295.48,72.44 295.83,72.73 296.18,73.14 296.53,76.47 296.88,72.59 297.23,71.51 297.58,73.70 297.93,76.98 298.28,72.55 298.63,79.98 298.98,71.95 299.33,79.38 299.68,75.61 300.03,71.07 300.38,77.33 300.74,66.15 301.09,78.34 301.44,67.63 301.79,76.18 302.14,74.90 302.49,75.30 302.84,75.43 303.19,74.45 303.54,75.23 303.89,70.50 304.24,76.81 304.59,71.24 304.94,77.93 305.29,72.76 305.64,80.06 305.99,71.62 306.34,74.83 306.69,67.98 307.04,75.36 307.39,75.16 307.74,74.69 308.10,73.63 308.45,75.67 308.80,72.13 309.15,71.63 309.50,74.51 309.85,75.86 310.20,68.75 310.55,73.61 310.90,68.64 311.25,79.27 311.60,68.36 311.95,74.98 312.30,77.15 312.65,67.05 313.00,74.73 313.35,73.20 313.70,71.32 314.05,75.08 314.40,72.65 314.75,75.08 315.10,72.52 315.46,72.25 315.81,74.01 316.16,71.01 316.51,71.32 316.86,70.30 317.21,78.49 317.56,71.15 317.91,76.67 318.26,74.51 318.61,75.84 318.96,73.84 319.31,73.02 319.66,73.07 320.01,75.04 320.36,72.58 320.71,75.01 321.06,73.52 321.41,75.23 321.76,71.54 322.11,75.61 322.46,71.24 322.82,81.63 323.17,68.93 323.52,74.62 323.87,71.62 324.22,81.52 324.57,70.33 324.92,74.42 325.27,73.53 325.62,74.32 325.97,73.85 326.32,71.77 326.67,73.17 327.02,77.40 327.37,69.60 327.72,73.57 328.07,75.17 328.42,72.49 328.77,72.25 329.12,72.62 329.47,69.86 329.82,71.71 330.18,80.53 330.53,69.03 330.88,70.08 331.23,71.70 331.58,70.05 331.93,67.76 332.28,78.57 332.63,67.97 332.98,76.27 333.33,68.37 333.68,75.74 334.03,68.90 334.38,70.51 334.73,69.61 335.08,70.05 335.43,70.07 335.78,68.54 336.13,69.95 336.48,67.87 336.83,71.06 337.18,68.40 337.54,71.30 337.89,66.95 338.24,72.46 338.59,71.14 338.94,71.84 339.29,71.05 339.64,63.48 339.99,73.25 340.34,61.58 340.69,72.73 341.04,66.75 341.39,71.24 341.74,70.60 342.09,62.34 342.44,77.03 342.79,69.24 343.14,72.32 343.49,63.04 343.84,73.33 344.19,65.61 344.54,68.33 344.90,75.36 345.25,66.92 345.60,75.64 345.95,69.73 346.30,80.03 346.65,67.42 347.00,73.89 347.35,69.17 347.70,70.68 348.05,73.04 348.40,80.38 348.75,69.41 349.10,66.47 349.45,77.91 349.80,70.15 350.15,77.35 350.50,68.45 350.85,70.81 351.20,72.31 351.55,70.30 351.90,70.47 352.26,68.58 352.61,70.30 352.96,70.68 353.31,69.85 353.66,71.58 354.01,69.32 354.36,66.97 354.71,77.13 355.06,67.73 355.41,69.63 355.76,74.33 356.11,68.25 356.46,70.09 356.81,65.36 357.16,77.26 357.51,65.16 357.86,74.04 358.21,69.61 358.56,70.44 358.91,69.04 359.26,68.31 359.62,67.02 359.97,72.42 360.32,68.57 360.67,67.15 361.02,72.04 361.37,69.32 361.72,75.00 362.07,67.35" fill="none" stroke="#3ce2e4" stroke-width="0.8" stroke-linejoin="round" />
<polyline points="266.04,75.77 266.39,75.12 266.74,63.59 267.09,71.60 267.44,62.12 267.79,61.33 268.14,64.70 268.49,63.82 268.84,58.40 269.19,63.80 269.54,57.47 269.89,56.26 270.24,55.37 270.59,53.73 270.94,53.24 271.30,52.07 271.65,56.65 272.00,47.84 272.35,45.05 272.70,51.09 273.05,45.81 273.40,50.66 273.75,49.18 274.10,41.69 274.45,42.91 274.80,49.18 275.15,37.81 275.50,45.33 275.85,40.70 276.20,30.98 276.55,40.06 276.90,38.39 277.25,48.09 277.60,34.53 277.95,46.85 278.30,37.08 278.66,44.90 279.01,41.26 279.36,45.41 279.71,39.20 280.06,42.65 280.41,41.10 280.76,43.60 281.11,43.19 281.46,42.59 281.81,44.13 282.16,42.26 282.51,44.26 282.86,49.15 283.21,38.13 283.56,37.19 283.91,45.89 284.26,45.17 284.61,47.22 284.96,39.28 285.31,46.77 285.66,39.69 286.02,42.29 286.37,41.46 286.72,41.16 287.07,40.38 287.42,44.15 287.77,41.05 288.12,40.48 288.47,40.08 288.82,39.09 289.17,38.19 289.52,41.91 289.87,39.83 290.22,38.00 290.57,43.07 290.92,39.46 291.27,38.08 291.62,40.57 291.97,35.36 292.32,34.40 292.67,28.62 293.02,41.87 293.38,42.24 293.73,27.05 294.08,44.19 294.43,41.41 294.78,40.29 295.13,34.55 295.48,37.58 295.83,38.09 296.18,35.55 296.53,38.24 296.88,33.79 297.23,40.16 297.58,31.03 297.93,42.05 298.28,38.05 298.63,33.90 298.98,37.86 299.33,39.54 299.68,36.56 300.03,37.34 300.38,39.63 300.74,35.14 301.09,37.71 301.44,39.03 301.79,30.17 302.14,40.99 302.49,42.58 302.84,31.84 303.19,35.61 303.54,33.05 303.89,36.98 304.24,33.67 304.59,36.00 304.94,35.61 305.29,31.11 305.64,35.34 305.99,33.29 306.34,34.39 306.69,44.19 307.04,34.03 307.39,33.57 307.74,28.15 308.10,38.52 308.45,32.80 308.80,30.81 309.15,29.53 309.50,35.26 309.85,29.26 310.20,36.93 310.55,32.87 310.90,34.26 311.25,33.50 311.60,34.72 311.95,28.51 312.30,36.86 312.65,33.05 313.00,29.62 313.35,27.97 313.70,37.39 314.05,31.20 314.40,31.96 314.75,28.37 315.10,35.47 315.46,35.35 315.81,34.92 316.16,38.60 316.51,29.70 316.86,40.90 317.21,29.26 317.56,36.75 317.91,35.90 318.26,36.05 318.61,35.24 318.96,46.72 319.31,33.57 319.66,40.41 320.01,36.97 320.36,35.99 320.71,38.33 321.06,34.89 321.41,27.58 321.76,44.98 322.11,34.49 322.46,27.52 322.82,45.28 323.17,32.48 323.52,38.37 323.87,37.53 324.22,32.38 324.57,40.57 324.92,46.87 325.27,27.34 325.62,40.34 325.97,37.54 326.32,40.01 326.67,37.63 327.02,39.10 327.37,39.16 327.72,35.31 328.07,39.39 328.42,44.09 328.77,43.50 329.12,36.78 329.47,38.09 329.82,35.09 330.18,42.88 330.53,36.99 330.88,37.64 331.23,45.34 331.58,35.19 331.93,36.05 332.28,37.84 332.63,40.86 332.98,31.41 333.33,26.05 333.68,39.27 334.03,35.84 334.38,31.77 334.73,37.83 335.08,33.27 335.43,39.23 335.78,40.08 336.13,38.33 336.48,33.24 336.83,37.14 337.18,41.46 337.54,32.13 337.89,36.91 338.24,35.92 338.59,33.39 338.94,36.37 339.29,36.48 339.64,37.41 339.99,32.88 340.34,36.75 340.69,36.96 341.04,38.25 341.39,43.22 341.74,34.21 342.09,37.82 342.44,37.18 342.79,39.51 343.14,27.94 343.49,39.18 343.84,40.15 344.19,41.46 344.54,37.91 344.90,42.40 345.25,27.85 345.60,43.97 345.95,33.76 346.30,39.61 346.65,37.55 347.00,34.73 347.35,39.54 347.70,40.60 348.05,46.01 348.40,30.27 348.75,45.18 349.10,37.20 349.45,39.70 349.80,38.07 350.15,36.38 350.50,36.26 350.85,38.65 351.20,38.66 351.55,36.98 351.90,32.46 352.26,48.35 352.61,29.36 352.96,41.60 353.31,31.23 353.66,38.70 354.01,27.82 354.36,46.93 354.71,33.54 355.06,35.82 355.41,38.16 355.76,34.27 356.11,39.22 356.46,37.41 356.81,35.85 357.16,38.49 357.51,32.81 357.86,39.72 358.21,37.56 358.56,37.97 358.91,32.51 359.26,40.08 359.62,34.94 359.97,41.70 360.32,28.84 360.67,39.85 361.02,39.47 361.37,34.74 361.72,40.48 362.07,39.09 362.42,40.30 362.77,39.91 363.12,37.62 363.47,34.81 363.82,40.18 364.17,36.43 364.52,38.34 364.87,38.66 365.22,36.04 365.57,33.04 365.92,36.63 366.27,44.52 366.62,35.47 366.98,39.15 367.33,34.86 367.68,40.83 368.03,27.98 368.38,39.05 368.73,33.79 369.08,35.62 369.43,32.28 369.78,43.05 370.13,35.00 370.48,34.97 370.83,39.34 371.18,32.32 371.53,37.31 371.88,35.71 372.23,33.72 372.58,34.57 372.93,38.15 373.28,35.82 373.63,31.17 373.98,33.54 374.34,35.10 374.69,30.47" fill="none" stroke="#0c5a12" stroke-width="0.95" stroke-linejoin="round" />
<line x1="266.04" y1="76.09" x2="266.04" y2="91.32" stroke="#14321a" stroke-width="0.9"/>
<line x1="238.0" y1="86.16" x2="385.2" y2="86.16" stroke="#3c3c8c" stroke-width="1"/>
<line x1="238.0" y1="77.56" x2="385.2" y2="77.56" stroke="#a86a7a" stroke-width="1"/>
<line x1="239.5" y1="28.00" x2="245.5" y2="28.00" stroke="#9fe5e8" stroke-width="0.8"/>
<text x="246" y="29.30" font-size="5.8" style="stroke-width:0.0px">LGM<tspan font-size="3.4" dy="1.3" style="stroke-width:0px">es10</tspan></text>
<line x1="239.5" y1="37.75" x2="245.5" y2="37.75" stroke="#2a9ea6" stroke-width="0.8"/>
<text x="246" y="39.05" font-size="5.8" style="stroke-width:0.0px">LGM<tspan font-size="3.4" dy="1.3" style="stroke-width:0px">es15</tspan></text>
<line x1="239.5" y1="47.50" x2="245.5" y2="47.50" stroke="#1f6f22" stroke-width="0.8"/>
<text x="246" y="48.80" font-size="5.8" style="stroke-width:0.0px">LGM<tspan font-size="3.4" dy="1.3" style="stroke-width:0px">es20</tspan></text>
<rect x="238.0" y="24.5" width="147.20" height="73.70" fill="none" stroke="#000" stroke-width="1"/>
<line x1="238.00" y1="98.2" x2="238.00" y2="100.80" stroke="#000" stroke-width="0.8"/>
<line x1="238.00" y1="24.5" x2="238.00" y2="21.90" stroke="#000" stroke-width="0.8"/>
<line x1="259.03" y1="98.2" x2="259.03" y2="100.80" stroke="#000" stroke-width="0.8"/>
<line x1="259.03" y1="24.5" x2="259.03" y2="21.90" stroke="#000" stroke-width="0.8"/>
<line x1="280.06" y1="98.2" x2="280.06" y2="100.80" stroke="#000" stroke-width="0.8"/>
<line x1="280.06" y1="24.5" x2="280.06" y2="21.90" stroke="#000" stroke-width="0.8"/>
<line x1="301.09" y1="98.2" x2="301.09" y2="100.80" stroke="#000" stroke-width="0.8"/>
<line x1="301.09" y1="24.5" x2="301.09" y2="21.90" stroke="#000" stroke-width="0.8"/>
<line x1="322.11" y1="98.2" x2="322.11" y2="100.80" stroke="#000" stroke-width="0.8"/>
<line x1="322.11" y1="24.5" x2="322.11" y2="21.90" stroke="#000" stroke-width="0.8"/>
<line x1="343.14" y1="98.2" x2="343.14" y2="100.80" stroke="#000" stroke-width="0.8"/>
<line x1="343.14" y1="24.5" x2="343.14" y2="21.90" stroke="#000" stroke-width="0.8"/>
<line x1="364.17" y1="98.2" x2="364.17" y2="100.80" stroke="#000" stroke-width="0.8"/>
<line x1="364.17" y1="24.5" x2="364.17" y2="21.90" stroke="#000" stroke-width="0.8"/>
<line x1="385.20" y1="98.2" x2="385.20" y2="100.80" stroke="#000" stroke-width="0.8"/>
<line x1="385.20" y1="24.5" x2="385.20" y2="21.90" stroke="#000" stroke-width="0.8"/>
<line x1="245.01" y1="98.2" x2="245.01" y2="99.60" stroke="#000" stroke-width="0.6"/>
<line x1="245.01" y1="24.5" x2="245.01" y2="23.10" stroke="#000" stroke-width="0.6"/>
<line x1="252.02" y1="98.2" x2="252.02" y2="99.60" stroke="#000" stroke-width="0.6"/>
<line x1="252.02" y1="24.5" x2="252.02" y2="23.10" stroke="#000" stroke-width="0.6"/>
<line x1="266.04" y1="98.2" x2="266.04" y2="99.60" stroke="#000" stroke-width="0.6"/>
<line x1="266.04" y1="24.5" x2="266.04" y2="23.10" stroke="#000" stroke-width="0.6"/>
<line x1="273.05" y1="98.2" x2="273.05" y2="99.60" stroke="#000" stroke-width="0.6"/>
<line x1="273.05" y1="24.5" x2="273.05" y2="23.10" stroke="#000" stroke-width="0.6"/>
<line x1="287.07" y1="98.2" x2="287.07" y2="99.60" stroke="#000" stroke-width="0.6"/>
<line x1="287.07" y1="24.5" x2="287.07" y2="23.10" stroke="#000" stroke-width="0.6"/>
<line x1="294.08" y1="98.2" x2="294.08" y2="99.60" stroke="#000" stroke-width="0.6"/>
<line x1="294.08" y1="24.5" x2="294.08" y2="23.10" stroke="#000" stroke-width="0.6"/>
<line x1="308.10" y1="98.2" x2="308.10" y2="99.60" stroke="#000" stroke-width="0.6"/>
<line x1="308.10" y1="24.5" x2="308.10" y2="23.10" stroke="#000" stroke-width="0.6"/>
<line x1="315.10" y1="98.2" x2="315.10" y2="99.60" stroke="#000" stroke-width="0.6"/>
<line x1="315.10" y1="24.5" x2="315.10" y2="23.10" stroke="#000" stroke-width="0.6"/>
<line x1="329.12" y1="98.2" x2="329.12" y2="99.60" stroke="#000" stroke-width="0.6"/>
<line x1="329.12" y1="24.5" x2="329.12" y2="23.10" stroke="#000" stroke-width="0.6"/>
<line x1="336.13" y1="98.2" x2="336.13" y2="99.60" stroke="#000" stroke-width="0.6"/>
<line x1="336.13" y1="24.5" x2="336.13" y2="23.10" stroke="#000" stroke-width="0.6"/>
<line x1="350.15" y1="98.2" x2="350.15" y2="99.60" stroke="#000" stroke-width="0.6"/>
<line x1="350.15" y1="24.5" x2="350.15" y2="23.10" stroke="#000" stroke-width="0.6"/>
<line x1="357.16" y1="98.2" x2="357.16" y2="99.60" stroke="#000" stroke-width="0.6"/>
<line x1="357.16" y1="24.5" x2="357.16" y2="23.10" stroke="#000" stroke-width="0.6"/>
<line x1="371.18" y1="98.2" x2="371.18" y2="99.60" stroke="#000" stroke-width="0.6"/>
<line x1="371.18" y1="24.5" x2="371.18" y2="23.10" stroke="#000" stroke-width="0.6"/>
<line x1="378.19" y1="98.2" x2="378.19" y2="99.60" stroke="#000" stroke-width="0.6"/>
<line x1="378.19" y1="24.5" x2="378.19" y2="23.10" stroke="#000" stroke-width="0.6"/>
<line x1="238.0" y1="24.50" x2="235.40" y2="24.50" stroke="#000" stroke-width="0.8"/>
<line x1="385.2" y1="24.50" x2="387.80" y2="24.50" stroke="#000" stroke-width="0.8"/>
<line x1="238.0" y1="39.24" x2="235.40" y2="39.24" stroke="#000" stroke-width="0.8"/>
<line x1="385.2" y1="39.24" x2="387.80" y2="39.24" stroke="#000" stroke-width="0.8"/>
<line x1="238.0" y1="53.98" x2="235.40" y2="53.98" stroke="#000" stroke-width="0.8"/>
<line x1="385.2" y1="53.98" x2="387.80" y2="53.98" stroke="#000" stroke-width="0.8"/>
<line x1="238.0" y1="68.72" x2="235.40" y2="68.72" stroke="#000" stroke-width="0.8"/>
<line x1="385.2" y1="68.72" x2="387.80" y2="68.72" stroke="#000" stroke-width="0.8"/>
<line x1="238.0" y1="83.46" x2="235.40" y2="83.46" stroke="#000" stroke-width="0.8"/>
<line x1="385.2" y1="83.46" x2="387.80" y2="83.46" stroke="#000" stroke-width="0.8"/>
<line x1="238.0" y1="98.20" x2="235.40" y2="98.20" stroke="#000" stroke-width="0.8"/>
<line x1="385.2" y1="98.20" x2="387.80" y2="98.20" stroke="#000" stroke-width="0.8"/>
<line x1="238.0" y1="29.41" x2="236.60" y2="29.41" stroke="#000" stroke-width="0.6"/>
<line x1="385.2" y1="29.41" x2="386.60" y2="29.41" stroke="#000" stroke-width="0.6"/>
<line x1="238.0" y1="34.33" x2="236.60" y2="34.33" stroke="#000" stroke-width="0.6"/>
<line x1="385.2" y1="34.33" x2="386.60" y2="34.33" stroke="#000" stroke-width="0.6"/>
<line x1="238.0" y1="44.15" x2="236.60" y2="44.15" stroke="#000" stroke-width="0.6"/>
<line x1="385.2" y1="44.15" x2="386.60" y2="44.15" stroke="#000" stroke-width="0.6"/>
<line x1="238.0" y1="49.07" x2="236.60" y2="49.07" stroke="#000" stroke-width="0.6"/>
<line x1="385.2" y1="49.07" x2="386.60" y2="49.07" stroke="#000" stroke-width="0.6"/>
<line x1="238.0" y1="58.89" x2="236.60" y2="58.89" stroke="#000" stroke-width="0.6"/>
<line x1="385.2" y1="58.89" x2="386.60" y2="58.89" stroke="#000" stroke-width="0.6"/>
<line x1="238.0" y1="63.81" x2="236.60" y2="63.81" stroke="#000" stroke-width="0.6"/>
<line x1="385.2" y1="63.81" x2="386.60" y2="63.81" stroke="#000" stroke-width="0.6"/>
<line x1="238.0" y1="73.63" x2="236.60" y2="73.63" stroke="#000" stroke-width="0.6"/>
<line x1="385.2" y1="73.63" x2="386.60" y2="73.63" stroke="#000" stroke-width="0.6"/>
<line x1="238.0" y1="78.55" x2="236.60" y2="78.55" stroke="#000" stroke-width="0.6"/>
<line x1="385.2" y1="78.55" x2="386.60" y2="78.55" stroke="#000" stroke-width="0.6"/>
<line x1="238.0" y1="88.37" x2="236.60" y2="88.37" stroke="#000" stroke-width="0.6"/>
<line x1="385.2" y1="88.37" x2="386.60" y2="88.37" stroke="#000" stroke-width="0.6"/>
<line x1="238.0" y1="93.29" x2="236.60" y2="93.29" stroke="#000" stroke-width="0.6"/>
<line x1="385.2" y1="93.29" x2="386.60" y2="93.29" stroke="#000" stroke-width="0.6"/>
<text x="238.00" y="112.60" font-size="8.22" text-anchor="middle" textLength="4.12" lengthAdjust="spacingAndGlyphs" >0</text>
<text x="259.03" y="112.60" font-size="8.22" text-anchor="middle" textLength="12.35" lengthAdjust="spacingAndGlyphs" >300</text>
<text x="280.06" y="112.60" font-size="8.22" text-anchor="middle" textLength="12.35" lengthAdjust="spacingAndGlyphs" >600</text>
<text x="301.09" y="112.60" font-size="8.22" text-anchor="middle" textLength="12.35" lengthAdjust="spacingAndGlyphs" >900</text>
<text x="322.11" y="112.60" font-size="8.22" text-anchor="middle" textLength="16.46" lengthAdjust="spacingAndGlyphs" >1200</text>
<text x="343.14" y="112.60" font-size="8.22" text-anchor="middle" textLength="16.46" lengthAdjust="spacingAndGlyphs" >1500</text>
<text x="364.17" y="112.60" font-size="8.22" text-anchor="middle" textLength="16.46" lengthAdjust="spacingAndGlyphs" >1800</text>
<text x="385.20" y="112.60" font-size="8.22" text-anchor="middle" textLength="16.46" lengthAdjust="spacingAndGlyphs" >2100</text>
<text x="229.00" y="27.20" font-size="8.22" text-anchor="end" textLength="16.46" lengthAdjust="spacingAndGlyphs" >1900</text>
<text x="229.00" y="41.94" font-size="8.22" text-anchor="end" textLength="16.46" lengthAdjust="spacingAndGlyphs" >2200</text>
<text x="229.00" y="56.68" font-size="8.22" text-anchor="end" textLength="16.46" lengthAdjust="spacingAndGlyphs" >2500</text>
<text x="229.00" y="71.42" font-size="8.22" text-anchor="end" textLength="16.46" lengthAdjust="spacingAndGlyphs" >2800</text>
<text x="229.00" y="86.16" font-size="8.22" text-anchor="end" textLength="16.46" lengthAdjust="spacingAndGlyphs" >3100</text>
<text x="229.00" y="100.90" font-size="8.22" text-anchor="end" textLength="16.46" lengthAdjust="spacingAndGlyphs" >3400</text>
<text x="311.60" y="124.60" font-size="8.67" text-anchor="middle" textLength="42.93" lengthAdjust="spacingAndGlyphs" >Model Years</text>
<text transform="translate(206.2,61.3) rotate(-90)" font-size="7.7" text-anchor="middle">AMOC Depth (m)</text>
<text x="238.00" y="18.40" font-size="9.6" textLength="4.60" lengthAdjust="spacingAndGlyphs" style="stroke-width:0.45px">b</text>
<text x="245.90" y="18.30" font-size="9.6" textLength="21.60" lengthAdjust="spacingAndGlyphs" >Mean</text>
<text x="271.25" y="18.30" font-size="9.6" textLength="43.75" lengthAdjust="spacingAndGlyphs" >overturning</text>
<text x="318.90" y="18.30" font-size="9.6" textLength="23.40" lengthAdjust="spacingAndGlyphs" >depth</text>
<text x="345.00" y="18.30" font-size="9.6" textLength="40.50" lengthAdjust="spacingAndGlyphs" >(20S-10N)</text>
<clipPath id="clipc"><rect x="47.4" y="144.4" width="147.10" height="73.20"/></clipPath>
<g clip-path="url(#clipc)">
<rect x="47.4" y="144.4" width="147.10" height="65.59" fill="#121228"/>
<path d="M149.9,144.9 187.6,144.9 194.5,144.4 194.5,209.8 47.4,209.8 47.4,145.4 74.0,145.4 106.4,145.1 138.4,145.1 149.9,144.9Z" fill="#26307d" fill-rule="evenodd" stroke="#000" stroke-width="0.5" stroke-opacity="0.75"/>
<path d="M192.8,144.9 194.5,144.7 194.5,209.8 47.4,209.8 47.4,145.7 74.0,145.8 106.4,145.3 138.4,145.3 150.2,145.1 187.6,145.1 192.8,144.9Z" fill="#2d44a5" fill-rule="evenodd" stroke="#000" stroke-width="0.5" stroke-opacity="0.75"/>
<path d="M147.3,145.3 187.6,145.3 194.5,145.1 194.5,209.8 47.4,209.8 47.4,146.1 74.0,146.1 106.4,145.5 138.4,145.5 147.3,145.3Z" fill="#236cc3" fill-rule="evenodd" stroke="#000" stroke-width="0.5" stroke-opacity="0.75"/>
<path d="M104.1,145.8 194.5,145.6 194.5,209.8 47.4,209.8 47.4,205.7 50.4,206.1 52.8,205.3 53.8,205.2 54.6,205.6 55.3,206.6 56.3,207.2 57.7,207.6 59.2,207.5 60.2,207.2 60.8,206.6 60.7,206.1 59.2,205.2 58.8,204.7 58.7,204.2 59.0,203.8 59.7,203.5 60.9,203.8 62.2,205.3 64.1,205.9 65.1,206.0 65.6,205.8 66.2,205.2 66.7,203.3 67.0,202.9 68.1,202.6 69.5,202.6 70.4,202.9 70.9,203.3 71.5,205.2 71.9,205.6 72.5,205.8 73.5,205.6 75.0,204.7 76.3,203.3 77.0,201.9 77.4,199.6 77.3,198.7 76.9,198.2 74.9,197.3 73.5,194.7 73.1,193.2 72.7,192.3 71.5,191.5 69.0,190.8 67.1,190.6 63.1,190.9 60.7,190.7 57.2,190.7 55.8,191.1 53.3,193.2 52.3,193.4 50.4,193.4 47.4,194.0 47.4,191.7 49.4,191.8 49.9,191.5 50.0,190.9 49.7,190.4 49.0,190.0 47.4,189.6 47.4,146.4 74.0,146.4 104.1,145.8ZM121.7,191.8 119.2,192.3 117.3,192.5 115.3,193.2 112.8,192.4 111.8,192.5 109.9,193.4 107.4,194.0 106.1,195.5 104.1,197.3 103.8,198.3 104.0,199.2 104.5,199.8 105.5,200.4 106.4,200.4 107.9,200.0 108.4,200.2 108.9,200.7 109.2,201.5 109.3,203.8 109.5,204.2 109.9,204.6 112.3,205.0 114.3,205.6 117.8,205.5 122.2,206.2 128.1,205.8 131.5,206.0 135.5,205.2 137.1,204.2 138.0,203.3 138.6,201.9 138.7,201.0 138.1,197.3 137.5,196.4 136.0,195.4 135.7,195.0 135.3,193.7 134.8,193.2 134.0,192.9 131.5,192.9 129.1,192.5 126.1,192.8 123.7,191.9 121.7,191.8ZM146.8,190.8 142.4,192.3 141.4,192.9 140.9,193.7 140.7,194.6 140.6,196.0 141.2,198.3 141.1,200.6 141.4,201.5 141.9,202.1 142.8,202.6 147.3,203.1 151.7,202.8 153.2,202.4 154.8,201.0 155.3,199.6 155.1,197.8 154.1,195.5 154.4,192.7 153.7,192.0 152.2,191.4 148.7,190.6 146.8,190.8ZM144.1,194.6 144.3,194.4 144.5,194.6 144.3,194.8 144.1,194.6ZM64.0,200.6 64.6,200.6 65.1,200.9 65.6,201.5 65.6,202.4 65.1,202.7 64.1,203.0 63.6,203.0 63.1,202.5 62.9,201.9 63.1,201.0 64.0,200.6Z" fill="#3c8ac8" fill-rule="evenodd" stroke="#000" stroke-width="0.5" stroke-opacity="0.75"/>
<path d="M96.0,146.2 106.4,145.9 194.5,146.2 194.5,186.9 187.6,187.6 170.9,188.7 149.7,186.5 147.8,186.5 145.3,186.9 141.4,185.6 138.4,185.1 106.4,185.7 74.0,185.0 47.4,184.8 47.4,146.8 74.0,146.7 96.0,146.2ZM101.4,207.0 102.5,206.8 104.5,207.3 106.9,208.4 108.7,209.8 96.5,209.8 98.2,208.4 101.4,207.0Z" fill="#69acd2" fill-rule="evenodd" stroke="#000" stroke-width="0.5" stroke-opacity="0.75"/>
<path d="M100.8,146.2 106.4,146.0 138.4,146.0 150.7,146.7 194.5,147.0 194.5,181.8 187.6,182.5 170.9,183.0 152.7,182.3 149.2,182.3 147.8,182.6 145.3,183.9 144.6,183.5 141.9,181.1 140.4,180.5 138.4,180.1 106.4,180.6 74.0,180.0 47.4,180.0 47.4,147.1 74.0,147.0 91.7,146.6 100.8,146.2Z" fill="#96c0d0" fill-rule="evenodd" stroke="#000" stroke-width="0.5" stroke-opacity="0.75"/>
<path d="M104.5,146.2 138.4,146.2 150.7,147.3 170.9,147.6 188.1,147.6 194.5,148.1 194.5,176.6 191.1,177.7 187.6,178.4 170.9,178.9 156.6,178.7 148.3,178.4 147.3,178.7 147.0,178.9 146.1,180.3 145.3,181.1 144.8,180.6 144.5,179.8 144.1,177.5 143.8,177.2 142.8,176.9 131.0,177.5 106.4,177.8 74.0,177.5 47.4,177.5 47.4,147.5 74.0,147.3 91.7,146.9 104.5,146.2Z" fill="#cad6e0" fill-rule="evenodd" stroke="#000" stroke-width="0.5" stroke-opacity="0.75"/>
<path d="M99.7,146.7 106.4,146.3 138.4,146.3 150.7,147.9 170.9,148.3 187.6,148.3 190.6,148.5 192.5,148.9 194.5,149.7 194.5,171.6 191.7,173.4 187.6,174.9 170.9,175.4 157.1,175.2 151.7,174.7 150.2,174.4 149.2,174.0 144.3,171.2 136.0,172.8 129.6,173.2 47.4,173.4 47.4,147.9 74.0,147.7 91.2,147.2 99.7,146.7Z" fill="#f0f1f2" fill-rule="evenodd" stroke="#000" stroke-width="0.5" stroke-opacity="0.75"/>
<path d="M103.2,146.7 106.4,146.5 138.4,146.5 150.7,148.4 172.9,148.9 187.6,148.9 189.1,149.1 191.5,149.8 194.5,151.0 194.5,166.6 191.1,169.8 188.1,171.8 171.4,172.5 158.1,172.3 152.2,171.8 150.2,171.4 148.3,170.6 144.3,168.3 141.9,169.3 139.9,169.8 134.5,170.5 129.1,170.8 106.4,171.0 74.0,170.5 47.4,170.5 47.4,148.3 74.0,148.2 91.7,147.5 103.2,146.7Z" fill="#f4e6e2" fill-rule="evenodd" stroke="#000" stroke-width="0.5" stroke-opacity="0.75"/>
<path d="M101.0,147.2 106.4,146.8 138.4,146.8 150.7,149.1 157.1,149.4 162.0,149.4 165.0,149.7 168.9,149.6 173.8,149.9 178.3,149.7 188.1,149.8 192.8,151.8 193.5,152.3 194.5,153.4 194.5,162.0 193.7,163.7 193.0,164.7 189.6,167.5 188.1,168.6 187.6,168.7 170.9,169.0 154.7,168.8 150.2,168.3 144.3,166.2 132.0,167.2 106.4,167.3 91.7,166.4 74.0,165.8 47.4,165.8 47.4,149.0 74.0,148.8 91.7,147.9 101.0,147.2Z" fill="#ecc8bc" fill-rule="evenodd" stroke="#000" stroke-width="0.5" stroke-opacity="0.75"/>
<path d="M103.3,147.6 106.4,147.4 138.4,147.4 150.2,150.2 154.2,150.5 157.1,151.1 160.6,150.6 162.5,150.7 165.0,151.3 169.4,150.8 173.8,151.4 177.8,150.9 187.6,151.0 190.6,152.2 192.2,153.6 193.4,156.4 193.7,157.8 193.6,158.7 191.9,162.4 191.0,163.7 189.6,165.0 187.6,166.1 170.9,166.5 157.1,166.4 150.2,165.9 144.3,164.6 132.0,165.1 106.4,165.2 91.7,163.7 74.0,162.7 47.4,162.8 47.4,150.3 74.0,150.0 91.7,148.8 103.3,147.6Z" fill="#e29e84" fill-rule="evenodd" stroke="#000" stroke-width="0.5" stroke-opacity="0.75"/>
<path d="M98.7,150.8 106.4,150.6 138.4,150.6 153.2,151.6 154.7,151.9 156.1,152.8 157.1,153.0 159.6,152.0 161.5,151.9 162.9,152.2 165.0,153.3 165.5,153.3 167.4,152.3 168.9,152.0 171.0,152.2 173.8,153.4 174.8,153.1 176.3,152.5 177.8,152.2 187.6,152.3 189.1,153.1 190.1,154.1 191.0,156.4 191.3,158.2 191.1,159.1 189.7,161.9 188.6,163.3 187.6,164.0 170.9,164.4 150.7,164.1 144.3,162.7 138.4,162.1 106.4,162.0 91.7,161.1 74.0,160.5 47.4,160.8 47.4,152.9 74.0,152.4 91.2,151.0 98.7,150.8Z" fill="#d67358" fill-rule="evenodd" stroke="#000" stroke-width="0.5" stroke-opacity="0.75"/>
<path d="M102.0,151.8 106.4,151.5 138.4,151.5 150.2,152.9 152.7,153.0 153.7,153.3 155.6,154.6 158.6,154.7 161.0,153.7 162.0,154.0 164.0,155.4 165.0,155.6 166.0,155.5 168.4,154.1 169.4,153.9 170.4,154.1 172.9,155.4 173.8,155.7 174.8,155.6 177.3,154.4 178.3,154.1 187.6,154.4 188.1,154.9 188.6,156.4 188.8,158.7 188.1,160.4 187.6,160.8 175.3,161.0 172.4,161.4 169.4,161.1 150.7,161.3 144.3,160.3 138.4,159.6 106.4,159.0 91.7,158.3 74.0,157.9 47.4,158.5 47.4,155.5 74.0,154.6 90.8,152.7 102.0,151.8Z" fill="#cc543c" fill-rule="evenodd" stroke="#000" stroke-width="0.5" stroke-opacity="0.75"/>
<path d="M152.3,155.4 153.2,155.1 153.7,155.3 154.2,155.7 154.6,156.8 154.2,157.8 153.2,158.1 152.1,157.8 151.8,157.3 151.7,156.8 151.9,155.9 152.3,155.4ZM171.3,157.8 172.4,157.4 173.2,157.8 173.5,158.2 173.6,158.7 173.3,159.1 172.4,159.6 171.9,159.4 171.2,158.7 171.1,158.2 171.3,157.8Z" fill="#b2302d" fill-rule="evenodd" stroke="#000" stroke-width="0.5" stroke-opacity="0.75"/>
<path d="M47.4,146.8 74.0,146.7 91.7,146.4 106.4,145.9 194.5,146.2M194.5,186.9 187.6,187.6 170.9,188.7 149.7,186.5 147.8,186.5 145.3,186.9 141.4,185.6 138.4,185.1 106.4,185.7 74.0,185.0 47.4,184.8M96.5,209.8 97.5,208.9 99.1,207.9 101.0,207.1 102.5,206.8 104.0,207.1 105.9,207.9 107.6,208.9 108.7,209.8" fill="none" stroke="#000" stroke-width="1.35" stroke-opacity="1"/>
</g>
<rect x="47.4" y="144.4" width="147.10" height="73.20" fill="none" stroke="#000" stroke-width="1"/>
<line x1="47.40" y1="217.6" x2="47.40" y2="220.20" stroke="#000" stroke-width="0.8"/>
<line x1="47.40" y1="144.4" x2="47.40" y2="141.80" stroke="#000" stroke-width="0.8"/>
<line x1="75.00" y1="217.6" x2="75.00" y2="220.20" stroke="#000" stroke-width="0.8"/>
<line x1="75.00" y1="144.4" x2="75.00" y2="141.80" stroke="#000" stroke-width="0.8"/>
<line x1="105.25" y1="217.6" x2="105.25" y2="220.20" stroke="#000" stroke-width="0.8"/>
<line x1="105.25" y1="144.4" x2="105.25" y2="141.80" stroke="#000" stroke-width="0.8"/>
<line x1="135.34" y1="217.6" x2="135.34" y2="220.20" stroke="#000" stroke-width="0.8"/>
<line x1="135.34" y1="144.4" x2="135.34" y2="141.80" stroke="#000" stroke-width="0.8"/>
<line x1="163.04" y1="217.6" x2="163.04" y2="220.20" stroke="#000" stroke-width="0.8"/>
<line x1="163.04" y1="144.4" x2="163.04" y2="141.80" stroke="#000" stroke-width="0.8"/>
<line x1="194.50" y1="217.6" x2="194.50" y2="220.20" stroke="#000" stroke-width="0.8"/>
<line x1="194.50" y1="144.4" x2="194.50" y2="141.80" stroke="#000" stroke-width="0.8"/>
<line x1="61.20" y1="217.6" x2="61.20" y2="219.00" stroke="#000" stroke-width="0.6"/>
<line x1="61.20" y1="144.4" x2="61.20" y2="143.00" stroke="#000" stroke-width="0.6"/>
<line x1="90.13" y1="217.6" x2="90.13" y2="219.00" stroke="#000" stroke-width="0.6"/>
<line x1="90.13" y1="144.4" x2="90.13" y2="143.00" stroke="#000" stroke-width="0.6"/>
<line x1="120.30" y1="217.6" x2="120.30" y2="219.00" stroke="#000" stroke-width="0.6"/>
<line x1="120.30" y1="144.4" x2="120.30" y2="143.00" stroke="#000" stroke-width="0.6"/>
<line x1="149.19" y1="217.6" x2="149.19" y2="219.00" stroke="#000" stroke-width="0.6"/>
<line x1="149.19" y1="144.4" x2="149.19" y2="143.00" stroke="#000" stroke-width="0.6"/>
<line x1="178.77" y1="217.6" x2="178.77" y2="219.00" stroke="#000" stroke-width="0.6"/>
<line x1="178.77" y1="144.4" x2="178.77" y2="143.00" stroke="#000" stroke-width="0.6"/>
<line x1="47.4" y1="144.40" x2="44.80" y2="144.40" stroke="#000" stroke-width="0.8"/>
<line x1="194.5" y1="144.40" x2="197.10" y2="144.40" stroke="#000" stroke-width="0.8"/>
<line x1="47.4" y1="159.04" x2="44.80" y2="159.04" stroke="#000" stroke-width="0.8"/>
<line x1="194.5" y1="159.04" x2="197.10" y2="159.04" stroke="#000" stroke-width="0.8"/>
<line x1="47.4" y1="173.68" x2="44.80" y2="173.68" stroke="#000" stroke-width="0.8"/>
<line x1="194.5" y1="173.68" x2="197.10" y2="173.68" stroke="#000" stroke-width="0.8"/>
<line x1="47.4" y1="188.32" x2="44.80" y2="188.32" stroke="#000" stroke-width="0.8"/>
<line x1="194.5" y1="188.32" x2="197.10" y2="188.32" stroke="#000" stroke-width="0.8"/>
<line x1="47.4" y1="202.96" x2="44.80" y2="202.96" stroke="#000" stroke-width="0.8"/>
<line x1="194.5" y1="202.96" x2="197.10" y2="202.96" stroke="#000" stroke-width="0.8"/>
<line x1="47.4" y1="217.60" x2="44.80" y2="217.60" stroke="#000" stroke-width="0.8"/>
<line x1="194.5" y1="217.60" x2="197.10" y2="217.60" stroke="#000" stroke-width="0.8"/>
<text x="47.40" y="232.40" font-size="8.22" text-anchor="middle" textLength="13.17" lengthAdjust="spacingAndGlyphs" >30S</text>
<text x="75.00" y="232.40" font-size="8.22" text-anchor="middle" textLength="13.17" lengthAdjust="spacingAndGlyphs" >10S</text>
<text x="105.25" y="232.40" font-size="8.22" text-anchor="middle" textLength="4.12" lengthAdjust="spacingAndGlyphs" >0</text>
<text x="135.34" y="232.40" font-size="8.22" text-anchor="middle" textLength="13.58" lengthAdjust="spacingAndGlyphs" >10N</text>
<text x="163.04" y="232.40" font-size="8.22" text-anchor="middle" textLength="13.58" lengthAdjust="spacingAndGlyphs" >30N</text>
<text x="194.50" y="232.40" font-size="8.22" text-anchor="middle" textLength="13.58" lengthAdjust="spacingAndGlyphs" >50N</text>
<text x="38.80" y="147.60" font-size="8.11" text-anchor="end" textLength="4.06" lengthAdjust="spacingAndGlyphs" >5</text>
<text x="38.80" y="162.24" font-size="8.11" text-anchor="end" textLength="15.82" lengthAdjust="spacingAndGlyphs" >1 km</text>
<text x="38.80" y="176.88" font-size="8.11" text-anchor="end" textLength="15.82" lengthAdjust="spacingAndGlyphs" >2 km</text>
<text x="38.80" y="191.52" font-size="8.11" text-anchor="end" textLength="15.82" lengthAdjust="spacingAndGlyphs" >3 km</text>
<text x="38.80" y="206.16" font-size="8.11" text-anchor="end" textLength="15.82" lengthAdjust="spacingAndGlyphs" >4 km</text>
<text x="38.80" y="220.80" font-size="8.11" text-anchor="end" textLength="15.82" lengthAdjust="spacingAndGlyphs" >5 km</text>
<text transform="translate(16.60,188.8) rotate(-90)" font-size="6" text-anchor="middle">Depth</text>
<clipPath id="clipd"><rect x="239.4" y="144.3" width="146.30" height="73.20"/></clipPath>
<g clip-path="url(#clipd)">
<rect x="239.4" y="144.3" width="146.30" height="65.59" fill="#121228"/>
<path d="M321.2,144.8 351.9,144.3 356.8,144.7 363.2,145.6 367.6,145.7 372.5,145.5 379.8,144.6 385.7,144.3 385.7,209.7 239.4,209.7 239.4,145.4 271.7,145.4 286.4,144.8 321.2,144.8Z" fill="#26307d" fill-rule="evenodd" stroke="#000" stroke-width="0.5" stroke-opacity="0.75"/>
<path d="M383.1,144.8 385.7,144.7 385.7,209.7 239.4,209.7 239.4,145.9 271.7,145.8 286.4,145.0 352.9,144.8 356.3,145.0 363.2,145.9 367.6,146.0 373.5,145.7 383.1,144.8Z" fill="#2d44a5" fill-rule="evenodd" stroke="#000" stroke-width="0.5" stroke-opacity="0.75"/>
<path d="M285.4,145.2 351.9,145.1 355.9,145.3 362.7,146.1 366.6,146.2 373.5,146.0 385.7,145.1 385.7,209.7 239.4,209.7 239.4,146.3 271.7,146.2 285.4,145.2Z" fill="#236cc3" fill-rule="evenodd" stroke="#000" stroke-width="0.5" stroke-opacity="0.75"/>
<path d="M282.3,145.7 286.4,145.3 351.9,145.3 362.7,146.4 366.1,146.5 373.0,146.3 385.7,145.5 385.7,209.7 239.4,209.7 239.4,201.7 241.4,203.0 241.8,203.1 242.1,202.8 242.4,201.4 243.3,200.6 243.8,200.3 244.3,200.3 245.0,200.9 245.1,201.4 244.9,202.3 245.3,202.4 246.7,200.2 247.2,199.7 248.2,199.5 249.2,199.5 250.2,200.5 251.6,200.3 252.4,200.5 253.1,201.2 254.5,201.8 254.8,202.3 254.8,203.2 255.1,203.7 255.7,203.2 255.6,201.8 257.0,201.2 260.0,200.5 260.4,200.7 261.4,201.6 262.9,201.6 263.9,201.9 265.2,202.8 265.6,203.2 265.8,203.9 266.3,203.4 266.8,203.2 267.2,201.8 267.8,201.2 270.2,200.5 270.7,200.5 273.2,202.9 273.6,202.8 273.1,201.4 273.7,201.2 274.6,201.4 275.7,203.7 276.6,203.8 277.2,203.2 277.4,202.3 277.9,201.4 278.5,200.9 279.0,200.7 280.5,200.8 281.5,201.1 282.0,201.5 282.4,201.4 282.9,200.9 284.6,200.5 285.4,198.5 285.9,198.6 286.3,199.5 286.1,200.0 284.9,200.9 284.4,202.3 284.9,203.3 286.4,203.8 288.3,202.8 290.8,200.5 292.0,198.6 292.6,198.2 292.4,196.8 293.0,195.9 293.4,194.0 293.8,193.1 294.7,192.3 297.7,190.8 298.0,190.3 296.7,189.4 296.9,189.0 297.6,188.8 300.6,189.0 304.0,188.7 305.5,188.4 306.2,188.0 306.4,187.7 306.3,187.1 305.5,186.2 305.0,186.1 303.0,186.3 300.6,186.0 298.1,186.5 297.1,187.0 296.6,187.0 294.2,186.1 292.7,184.4 291.3,183.4 290.9,182.5 291.0,182.1 291.5,181.1 293.0,179.7 294.2,179.4 299.0,179.3 298.5,178.8 297.6,178.4 239.4,178.0 239.4,146.8 271.7,146.6 282.3,145.7ZM339.7,186.5 339.4,187.1 339.4,187.6 339.7,189.2 339.9,188.0 339.7,186.5ZM244.8,202.7 244.8,202.8 244.8,202.8 244.8,202.8 244.8,202.7ZM252.1,201.5 251.7,201.8 251.6,202.3 252.1,203.7 252.6,203.7 253.1,204.0 253.6,203.7 253.7,203.2 253.4,202.3 252.6,201.5 252.1,201.5Z" fill="#3c8ac8" fill-rule="evenodd" stroke="#000" stroke-width="0.5" stroke-opacity="0.75"/>
<path d="M284.3,145.7 286.4,145.5 351.9,145.5 363.2,146.8 372.0,146.7 385.7,146.1 385.7,178.6 364.7,179.1 364.0,179.3 363.4,179.7 361.7,183.4 361.2,183.8 360.7,183.9 360.3,183.8 359.8,183.3 358.3,179.8 357.3,179.2 351.9,179.0 337.3,177.5 336.3,177.6 334.8,178.2 334.3,178.1 333.3,177.6 331.9,176.0 330.9,175.4 329.9,175.6 327.2,177.9 326.5,178.2 325.9,177.9 324.0,176.2 323.1,175.9 307.9,174.3 298.1,173.6 239.4,173.1 239.4,147.3 271.7,147.1 284.3,145.7ZM292.5,201.8 293.7,202.0 294.7,201.9 295.4,202.3 296.0,203.2 296.2,205.1 297.3,206.5 297.5,207.8 298.4,209.2 298.6,209.7 290.4,209.7 290.5,209.2 291.4,208.3 291.9,207.4 292.1,206.0 291.9,203.2 292.2,201.9 292.5,201.8ZM319.3,202.8 320.6,202.5 323.1,202.9 323.3,203.2 323.4,204.6 324.5,205.6 325.5,206.0 326.5,205.4 328.0,205.9 328.5,205.9 329.1,205.5 329.3,204.1 329.9,203.1 330.9,202.7 332.9,202.9 333.4,203.2 334.7,205.1 334.9,205.5 334.6,206.9 334.9,207.8 335.3,208.3 336.7,209.2 337.0,209.7 315.6,209.7 315.7,206.5 315.9,206.0 318.2,204.5 318.9,203.2 319.3,202.8ZM344.6,203.2 345.6,203.4 347.2,204.1 347.8,204.6 348.1,205.5 348.1,207.4 348.7,209.7 339.0,209.7 339.5,207.8 340.5,206.0 342.2,205.1 344.1,203.4 344.6,203.2ZM304.9,203.7 305.5,203.5 305.9,203.5 308.5,205.5 309.5,207.8 309.7,208.8 309.5,209.7 300.0,209.7 300.8,208.8 301.6,206.5 303.5,205.3 304.9,203.7ZM355.8,204.1 356.3,203.9 356.8,204.2 357.5,205.1 357.7,206.9 358.4,208.8 358.3,209.7 354.1,209.7 354.4,207.8 354.3,206.5 354.5,205.5 354.9,204.8 355.8,204.1Z" fill="#69acd2" fill-rule="evenodd" stroke="#000" stroke-width="0.5" stroke-opacity="0.75"/>
<path d="M285.7,145.7 351.9,145.6 363.2,147.4 385.7,146.8 385.7,175.3 364.7,175.7 360.7,176.0 357.8,175.8 351.9,175.8 337.3,174.4 334.3,174.8 331.9,173.5 330.9,173.1 328.5,173.7 326.5,174.4 324.5,173.4 323.6,173.1 308.4,171.7 298.1,171.0 271.7,170.5 239.4,170.4 239.4,147.8 271.7,147.5 285.7,145.7Z" fill="#96c0d0" fill-rule="evenodd" stroke="#000" stroke-width="0.5" stroke-opacity="0.75"/>
<path d="M283.7,146.1 286.4,145.8 351.9,145.8 363.2,148.0 385.7,147.5 385.7,172.4 363.2,172.8 351.9,172.8 337.3,171.6 334.3,171.6 330.9,170.9 326.5,170.9 323.1,170.4 298.1,168.5 271.7,167.9 239.4,167.7 239.4,148.2 271.7,147.9 283.7,146.1Z" fill="#cad6e0" fill-rule="evenodd" stroke="#000" stroke-width="0.5" stroke-opacity="0.75"/>
<path d="M284.9,146.1 286.4,145.9 351.9,145.9 363.2,148.6 385.7,148.2 385.7,169.2 351.9,169.5 308.4,167.1 298.1,166.4 285.9,166.2 271.7,165.2 239.4,165.1 239.4,148.6 271.7,148.3 284.9,146.1Z" fill="#f0f1f2" fill-rule="evenodd" stroke="#000" stroke-width="0.5" stroke-opacity="0.75"/>
<path d="M286.0,146.1 351.9,146.1 363.2,149.3 385.7,148.9 385.7,166.0 351.9,166.0 308.4,164.8 298.1,164.4 286.4,164.2 271.7,162.9 239.4,162.6 239.4,148.9 271.7,148.6 286.0,146.1Z" fill="#f4e6e2" fill-rule="evenodd" stroke="#000" stroke-width="0.5" stroke-opacity="0.75"/>
<path d="M284.8,146.6 286.4,146.4 351.9,146.5 354.2,147.1 363.2,150.2 385.7,149.7 385.7,163.3 351.9,163.3 308.4,162.9 286.4,162.5 271.7,161.2 239.4,160.7 239.4,149.3 271.2,149.0 284.8,146.6Z" fill="#ecc8bc" fill-rule="evenodd" stroke="#000" stroke-width="0.5" stroke-opacity="0.75"/>
<path d="M284.7,147.5 286.4,147.2 351.9,147.2 363.2,150.9 385.7,150.5 385.7,161.7 351.9,161.7 286.4,161.1 271.7,159.8 239.4,159.4 239.4,150.3 271.7,150.0 284.7,147.5Z" fill="#e29e84" fill-rule="evenodd" stroke="#000" stroke-width="0.5" stroke-opacity="0.75"/>
<path d="M343.2,148.4 351.9,148.6 363.2,151.6 385.7,151.2 385.7,160.4 358.8,160.5 286.4,159.7 271.7,158.5 239.4,158.2 239.4,151.2 271.7,150.9 286.4,149.0 329.4,148.8 343.2,148.4Z" fill="#d67358" fill-rule="evenodd" stroke="#000" stroke-width="0.5" stroke-opacity="0.75"/>
<path d="M336.6,149.8 337.7,149.7 339.7,149.8 341.7,149.6 345.6,149.4 347.5,149.8 349.0,149.7 351.9,149.8 355.9,151.0 363.2,152.5 371.5,152.6 385.7,152.4 385.7,159.2 378.4,159.4 370.5,159.2 366.6,159.5 358.8,159.5 350.0,158.9 298.1,157.5 239.4,157.0 239.4,152.2 271.7,151.9 286.4,150.9 307.9,150.9 328.9,150.6 332.9,150.4 336.6,149.8Z" fill="#cc543c" fill-rule="evenodd" stroke="#000" stroke-width="0.5" stroke-opacity="0.75"/>
<path d="M342.2,150.7 342.6,150.5 344.1,150.7 345.1,150.5 345.6,150.5 346.3,151.2 347.0,151.5 348.5,151.5 349.2,151.7 349.9,152.1 351.0,154.0 350.8,154.4 349.5,154.7 347.5,155.6 346.1,155.5 344.6,155.8 343.1,155.2 340.7,155.5 339.2,154.9 337.7,155.1 336.8,154.6 336.1,154.0 336.0,153.5 336.1,153.0 337.6,151.7 339.2,152.1 340.1,151.2 341.7,151.0 342.2,150.7ZM339.7,152.6 339.5,153.0 339.7,153.4 340.2,153.0 339.7,152.6ZM358.1,153.5 359.3,153.5 360.3,153.9 362.2,153.8 364.7,154.5 365.6,154.4 367.1,155.1 368.1,155.2 368.7,155.8 368.5,156.3 366.1,157.7 364.2,157.7 362.2,158.2 360.3,157.9 357.8,157.3 357.3,156.8 356.8,155.7 355.8,154.4 356.3,154.0 358.1,153.5ZM374.2,155.3 374.9,155.1 377.4,155.2 378.8,155.6 380.3,155.7 380.5,155.8 380.5,156.3 379.2,157.7 378.4,158.1 375.4,157.9 374.6,157.7 373.9,156.7 373.8,155.8 374.2,155.3Z" fill="#b2302d" fill-rule="evenodd" stroke="#000" stroke-width="0.5" stroke-opacity="0.75"/>
<path d="M361.1,155.8 361.7,155.6 362.2,155.7 362.7,156.3 362.4,156.7 361.7,156.7 361.1,156.3 361.1,155.8Z" fill="#96192d" fill-rule="evenodd" stroke="#000" stroke-width="0.5" stroke-opacity="0.75"/>
<path d="M239.4,147.3 271.7,147.1 286.4,145.5 351.9,145.5 363.2,146.8 372.0,146.7 385.7,146.1M385.7,178.6 364.7,179.1 364.0,179.3 363.4,179.7 361.7,183.4 361.2,183.8 360.7,183.9 360.3,183.8 359.8,183.3 358.3,179.8 357.3,179.2 351.9,179.0 337.3,177.5 336.3,177.6 334.8,178.2 334.3,178.1 333.3,177.6 331.9,176.0 330.9,175.4 329.9,175.6 327.2,177.9 326.5,178.2 325.9,177.9 324.0,176.2 323.1,175.9 307.9,174.3 298.1,173.6 239.4,173.1M290.4,209.7 290.5,209.2 291.4,208.3 291.9,207.4 292.1,206.0 291.9,204.1 292.0,202.8 292.2,201.9 292.7,201.8 293.7,202.0 294.7,201.9 295.4,202.3 296.0,203.2 296.2,205.1 297.3,206.5 297.5,207.8 298.4,209.2 298.6,209.7M300.0,209.7 300.8,208.8 301.6,206.5 303.2,205.5 304.5,204.1 305.5,203.5 305.9,203.5 306.4,203.9 308.4,205.5 308.8,206.0 309.6,208.3 309.5,209.7M315.6,209.7 315.7,206.5 315.9,206.0 318.2,204.5 319.2,202.9 320.1,202.5 323.1,202.9 323.3,203.2 323.4,204.6 324.5,205.6 325.5,206.0 326.5,205.4 328.0,205.9 328.5,205.9 329.1,205.5 329.3,204.1 329.9,203.1 330.9,202.7 332.9,202.9 333.4,203.2 334.7,205.1 334.9,205.5 334.6,206.9 334.9,207.8 335.3,208.3 336.7,209.2 337.0,209.7M339.0,209.7 339.5,207.8 340.5,206.0 342.2,205.1 344.1,203.4 344.6,203.2 345.6,203.4 347.2,204.1 347.8,204.6 348.1,205.5 348.1,207.4 348.7,209.7M354.1,209.7 354.4,207.8 354.3,206.5 354.5,205.5 355.4,204.4 356.3,203.9 356.8,204.2 357.5,205.1 357.7,206.9 358.4,208.8 358.3,209.7" fill="none" stroke="#000" stroke-width="1.35" stroke-opacity="1"/>
</g>
<rect x="239.4" y="144.3" width="146.30" height="73.20" fill="none" stroke="#000" stroke-width="1"/>
<line x1="239.40" y1="217.5" x2="239.40" y2="220.10" stroke="#000" stroke-width="0.8"/>
<line x1="239.40" y1="144.3" x2="239.40" y2="141.70" stroke="#000" stroke-width="0.8"/>
<line x1="266.85" y1="217.5" x2="266.85" y2="220.10" stroke="#000" stroke-width="0.8"/>
<line x1="266.85" y1="144.3" x2="266.85" y2="141.70" stroke="#000" stroke-width="0.8"/>
<line x1="296.94" y1="217.5" x2="296.94" y2="220.10" stroke="#000" stroke-width="0.8"/>
<line x1="296.94" y1="144.3" x2="296.94" y2="141.70" stroke="#000" stroke-width="0.8"/>
<line x1="326.86" y1="217.5" x2="326.86" y2="220.10" stroke="#000" stroke-width="0.8"/>
<line x1="326.86" y1="144.3" x2="326.86" y2="141.70" stroke="#000" stroke-width="0.8"/>
<line x1="354.41" y1="217.5" x2="354.41" y2="220.10" stroke="#000" stroke-width="0.8"/>
<line x1="354.41" y1="144.3" x2="354.41" y2="141.70" stroke="#000" stroke-width="0.8"/>
<line x1="385.70" y1="217.5" x2="385.70" y2="220.10" stroke="#000" stroke-width="0.8"/>
<line x1="385.70" y1="144.3" x2="385.70" y2="141.70" stroke="#000" stroke-width="0.8"/>
<line x1="253.12" y1="217.5" x2="253.12" y2="218.90" stroke="#000" stroke-width="0.6"/>
<line x1="253.12" y1="144.3" x2="253.12" y2="142.90" stroke="#000" stroke-width="0.6"/>
<line x1="281.89" y1="217.5" x2="281.89" y2="218.90" stroke="#000" stroke-width="0.6"/>
<line x1="281.89" y1="144.3" x2="281.89" y2="142.90" stroke="#000" stroke-width="0.6"/>
<line x1="311.90" y1="217.5" x2="311.90" y2="218.90" stroke="#000" stroke-width="0.6"/>
<line x1="311.90" y1="144.3" x2="311.90" y2="142.90" stroke="#000" stroke-width="0.6"/>
<line x1="340.63" y1="217.5" x2="340.63" y2="218.90" stroke="#000" stroke-width="0.6"/>
<line x1="340.63" y1="144.3" x2="340.63" y2="142.90" stroke="#000" stroke-width="0.6"/>
<line x1="370.05" y1="217.5" x2="370.05" y2="218.90" stroke="#000" stroke-width="0.6"/>
<line x1="370.05" y1="144.3" x2="370.05" y2="142.90" stroke="#000" stroke-width="0.6"/>
<line x1="239.4" y1="144.30" x2="236.80" y2="144.30" stroke="#000" stroke-width="0.8"/>
<line x1="385.7" y1="144.30" x2="388.30" y2="144.30" stroke="#000" stroke-width="0.8"/>
<line x1="239.4" y1="158.94" x2="236.80" y2="158.94" stroke="#000" stroke-width="0.8"/>
<line x1="385.7" y1="158.94" x2="388.30" y2="158.94" stroke="#000" stroke-width="0.8"/>
<line x1="239.4" y1="173.58" x2="236.80" y2="173.58" stroke="#000" stroke-width="0.8"/>
<line x1="385.7" y1="173.58" x2="388.30" y2="173.58" stroke="#000" stroke-width="0.8"/>
<line x1="239.4" y1="188.22" x2="236.80" y2="188.22" stroke="#000" stroke-width="0.8"/>
<line x1="385.7" y1="188.22" x2="388.30" y2="188.22" stroke="#000" stroke-width="0.8"/>
<line x1="239.4" y1="202.86" x2="236.80" y2="202.86" stroke="#000" stroke-width="0.8"/>
<line x1="385.7" y1="202.86" x2="388.30" y2="202.86" stroke="#000" stroke-width="0.8"/>
<line x1="239.4" y1="217.50" x2="236.80" y2="217.50" stroke="#000" stroke-width="0.8"/>
<line x1="385.7" y1="217.50" x2="388.30" y2="217.50" stroke="#000" stroke-width="0.8"/>
<text x="239.40" y="232.40" font-size="8.22" text-anchor="middle" textLength="13.17" lengthAdjust="spacingAndGlyphs" >30S</text>
<text x="266.85" y="232.40" font-size="8.22" text-anchor="middle" textLength="13.17" lengthAdjust="spacingAndGlyphs" >10S</text>
<text x="296.94" y="232.40" font-size="8.22" text-anchor="middle" textLength="4.12" lengthAdjust="spacingAndGlyphs" >0</text>
<text x="326.86" y="232.40" font-size="8.22" text-anchor="middle" textLength="13.58" lengthAdjust="spacingAndGlyphs" >10N</text>
<text x="354.41" y="232.40" font-size="8.22" text-anchor="middle" textLength="13.58" lengthAdjust="spacingAndGlyphs" >30N</text>
<text x="385.70" y="232.40" font-size="8.22" text-anchor="middle" textLength="13.58" lengthAdjust="spacingAndGlyphs" >50N</text>
<text x="230.80" y="147.50" font-size="8.11" text-anchor="end" textLength="4.06" lengthAdjust="spacingAndGlyphs" >5</text>
<text x="230.80" y="162.14" font-size="8.11" text-anchor="end" textLength="15.82" lengthAdjust="spacingAndGlyphs" >1 km</text>
<text x="230.80" y="176.78" font-size="8.11" text-anchor="end" textLength="15.82" lengthAdjust="spacingAndGlyphs" >2 km</text>
<text x="230.80" y="191.42" font-size="8.11" text-anchor="end" textLength="15.82" lengthAdjust="spacingAndGlyphs" >3 km</text>
<text x="230.80" y="206.06" font-size="8.11" text-anchor="end" textLength="15.82" lengthAdjust="spacingAndGlyphs" >4 km</text>
<text x="230.80" y="220.70" font-size="8.11" text-anchor="end" textLength="15.82" lengthAdjust="spacingAndGlyphs" >5 km</text>
<text transform="translate(208.60,188.8) rotate(-90)" font-size="6" text-anchor="middle">Depth</text>
<text x="47.20" y="138.60" font-size="9.2" textLength="3.90" lengthAdjust="spacingAndGlyphs" style="stroke-width:0.5px">c</text>
<text x="56.80" y="138.60" font-size="9.2" textLength="7.40" lengthAdjust="spacingAndGlyphs" >PI</text>
<text x="65.10" y="140.20" font-size="5.0" textLength="7.00" lengthAdjust="spacingAndGlyphs" style="stroke-width:0.2px">res</text>
<text x="74.50" y="138.60" font-size="9.2" textLength="25.20" lengthAdjust="spacingAndGlyphs" >AMOC</text>
<text x="239.25" y="138.60" font-size="9.2" textLength="4.15" lengthAdjust="spacingAndGlyphs" style="stroke-width:0.5px">d</text>
<text x="248.80" y="138.60" font-size="9.2" textLength="18.60" lengthAdjust="spacingAndGlyphs" >LGM</text>
<text x="266.80" y="140.20" font-size="5.0" textLength="13.50" lengthAdjust="spacingAndGlyphs" style="stroke-width:0.2px">es20</text>
<text x="283.30" y="138.60" font-size="9.2" textLength="25.40" lengthAdjust="spacingAndGlyphs" >AMOC</text>
<rect x="107.75" y="237.8" width="8.66" height="6.80" fill="#121228" stroke="#333" stroke-width="0.4"/>
<rect x="116.41" y="237.8" width="8.66" height="6.80" fill="#26307d" stroke="#333" stroke-width="0.4"/>
<rect x="125.08" y="237.8" width="8.66" height="6.80" fill="#2d44a5" stroke="#333" stroke-width="0.4"/>
<rect x="133.74" y="237.8" width="8.66" height="6.80" fill="#236cc3" stroke="#333" stroke-width="0.4"/>
<rect x="142.41" y="237.8" width="8.66" height="6.80" fill="#3c8ac8" stroke="#333" stroke-width="0.4"/>
<rect x="151.07" y="237.8" width="8.66" height="6.80" fill="#69acd2" stroke="#333" stroke-width="0.4"/>
<rect x="159.73" y="237.8" width="8.66" height="6.80" fill="#96c0d0" stroke="#333" stroke-width="0.4"/>
<rect x="168.40" y="237.8" width="8.66" height="6.80" fill="#cad6e0" stroke="#333" stroke-width="0.4"/>
<rect x="177.06" y="237.8" width="8.66" height="6.80" fill="#f0f1f2" stroke="#333" stroke-width="0.4"/>
<rect x="185.72" y="237.8" width="8.66" height="6.80" fill="#f4e6e2" stroke="#333" stroke-width="0.4"/>
<rect x="194.39" y="237.8" width="8.66" height="6.80" fill="#ecc8bc" stroke="#333" stroke-width="0.4"/>
<rect x="203.05" y="237.8" width="8.66" height="6.80" fill="#e29e84" stroke="#333" stroke-width="0.4"/>
<rect x="211.72" y="237.8" width="8.66" height="6.80" fill="#d67358" stroke="#333" stroke-width="0.4"/>
<rect x="220.38" y="237.8" width="8.66" height="6.80" fill="#cc543c" stroke="#333" stroke-width="0.4"/>
<rect x="229.04" y="237.8" width="8.66" height="6.80" fill="#b2302d" stroke="#333" stroke-width="0.4"/>
<rect x="237.71" y="237.8" width="8.66" height="6.80" fill="#96192d" stroke="#333" stroke-width="0.4"/>
<rect x="246.37" y="237.8" width="8.66" height="6.80" fill="#691223" stroke="#333" stroke-width="0.4"/>
<rect x="255.04" y="237.8" width="8.66" height="6.80" fill="#371419" stroke="#333" stroke-width="0.4"/>
<rect x="107.75" y="237.8" width="155.95" height="6.80" fill="none" stroke="#111" stroke-width="0.6"/>
<text x="116.41" y="251.80" font-size="8.22" text-anchor="middle" textLength="6.58" lengthAdjust="spacingAndGlyphs" >-6</text>
<text x="133.74" y="251.80" font-size="8.22" text-anchor="middle" textLength="6.58" lengthAdjust="spacingAndGlyphs" >-3</text>
<text x="151.07" y="251.80" font-size="8.22" text-anchor="middle" textLength="4.12" lengthAdjust="spacingAndGlyphs" >0</text>
<text x="168.40" y="251.80" font-size="8.22" text-anchor="middle" textLength="4.12" lengthAdjust="spacingAndGlyphs" >3</text>
<text x="185.72" y="251.80" font-size="8.22" text-anchor="middle" textLength="4.12" lengthAdjust="spacingAndGlyphs" >6</text>
<text x="203.05" y="251.80" font-size="8.22" text-anchor="middle" textLength="4.12" lengthAdjust="spacingAndGlyphs" >9</text>
<text x="220.38" y="251.80" font-size="8.22" text-anchor="middle" textLength="8.23" lengthAdjust="spacingAndGlyphs" >12</text>
<text x="237.71" y="251.80" font-size="8.22" text-anchor="middle" textLength="8.23" lengthAdjust="spacingAndGlyphs" >15</text>
<text x="255.04" y="251.80" font-size="8.22" text-anchor="middle" textLength="8.23" lengthAdjust="spacingAndGlyphs" >18</text>
<text x="278.70" y="248.20" font-size="8.56" text-anchor="start" textLength="8.99" lengthAdjust="spacingAndGlyphs" >Sv</text>
</svg></body></html>
